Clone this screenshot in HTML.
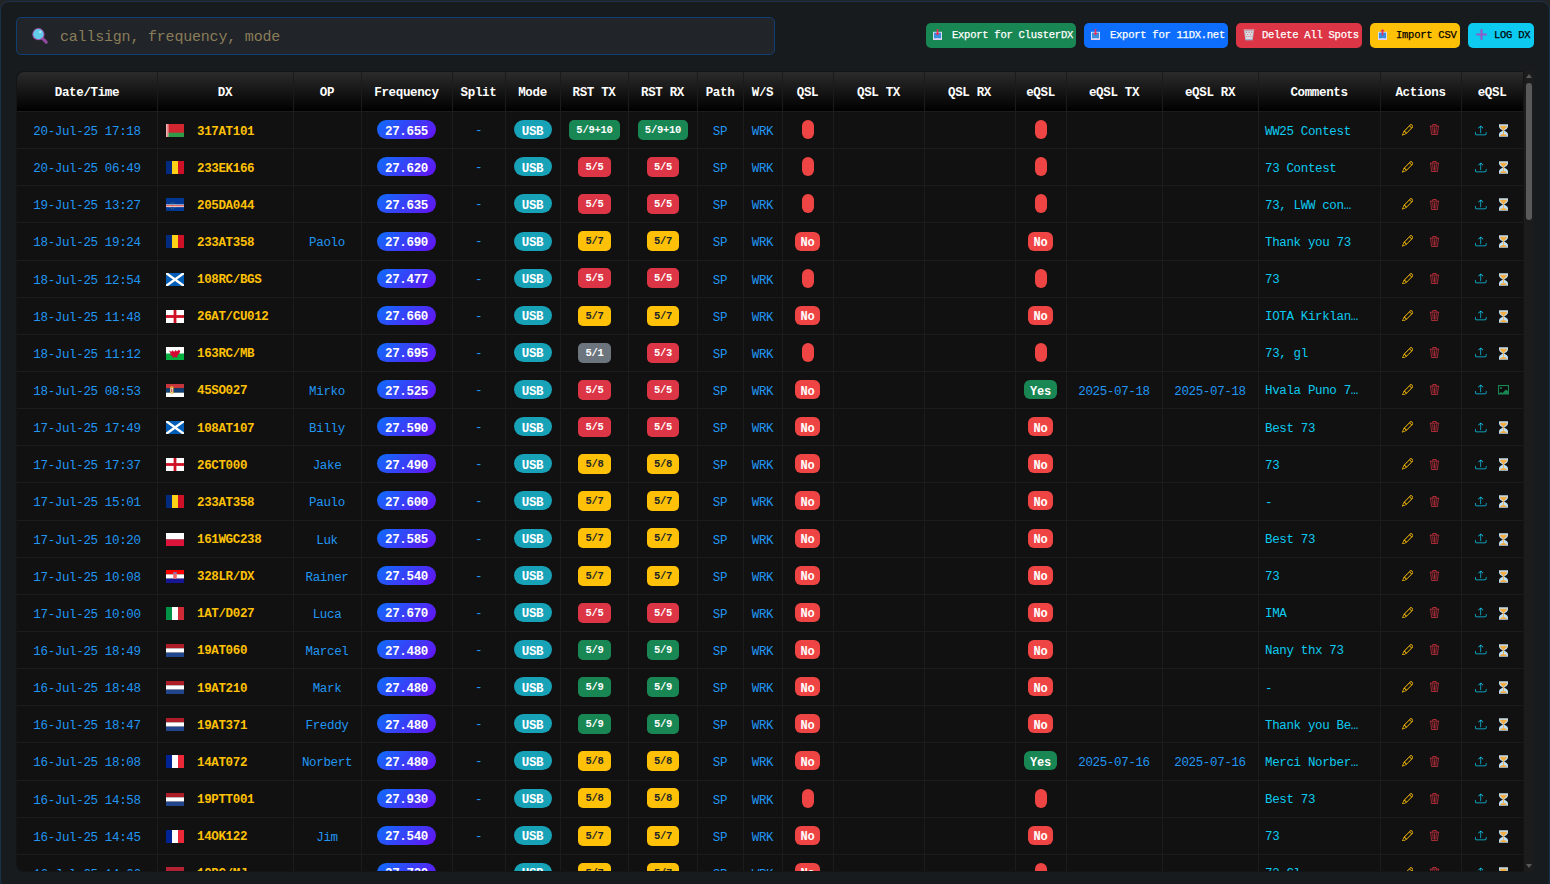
<!DOCTYPE html>
<html><head><meta charset="utf-8"><title>DX Log</title>
<style>
*{box-sizing:border-box;margin:0;padding:0}
html,body{width:1550px;height:884px;overflow:hidden;background:#222428}
body{position:relative;font-family:"Liberation Mono",monospace}
.panel{position:absolute;left:0;top:1px;width:1550px;height:888px;background:#181b1e;border:1px solid #1a3249;border-radius:9px}
.search{position:absolute;left:16px;top:17px;width:759px;height:38px;background:#212428;border:1px solid #104072;border-radius:5px}
.search .mag{position:absolute;left:15px;top:10px}
.search .ph{position:absolute;left:43px;top:10px;font-size:15px;letter-spacing:-0.2px;color:#8a7d5a;line-height:20px}
.btn{position:absolute;top:23px;height:25px;border-radius:5px;font-size:10.5px;letter-spacing:-0.25px;line-height:25px;color:#fff;white-space:nowrap}
.btn .bi{position:absolute;top:5.5px}
.btn span{position:absolute;top:0;-webkit-text-stroke:0.25px currentColor}
.tbl{position:absolute;left:17px;top:72px;width:1506px;height:799px;border-radius:7px 0 0 7px;overflow:hidden;background:#111;box-shadow:0 0 0 1px #131416}
.head{position:absolute;left:0;top:0;width:1506px;height:39px;background:linear-gradient(#2b2b2b,#000)}
.head .c{height:39px;line-height:39px;padding-top:2px;color:#fff;font-weight:bold;font-size:12.5px;letter-spacing:-0.35px}
.c{position:absolute;top:0;height:37.14px;text-align:center;white-space:nowrap;overflow:hidden}
.row{position:absolute;left:0;width:1506px;height:37.14px;border-top:1px solid #1c1c1c}
.row .c{line-height:36px;font-size:12.5px;letter-spacing:-0.35px}
.row .bc{line-height:0;padding-top:8.1px}
.vl{position:absolute;top:0;width:1px;height:799px;background:#1c1c1c}
.hvl{position:absolute;top:0;width:1px;height:39px;background:#1b1b1b}
.dt,.op,.bl{color:#2196f3;position:relative;top:2px} .sp{color:#2196f3;position:relative;top:1px}
.call{color:#ffc107;font-weight:bold;position:absolute;left:40px;top:1.5px}
.flag{position:absolute;left:9px;top:12px}
.com{color:#0dcaf0;position:absolute;left:7px;top:1.5px}
.fq{display:inline-block;vertical-align:top;height:19px;line-height:19px;padding:2.5px 8px 0;border-radius:10px;background:linear-gradient(135deg,#0d6efd,#6610f2);color:#fff;font-weight:bold}
.usb{display:inline-block;vertical-align:top;height:19px;line-height:19px;padding:2.5px 4px 0;width:38px;border-radius:10px;background:#17a2b8;color:#fff;font-weight:bold}
.rb{display:inline-block;vertical-align:top;height:20px;line-height:20px;padding:0 7px;position:relative;left:0.5px;top:-0.25px;border-radius:5px;font-size:10.5px;letter-spacing:-0.25px;font-weight:bold;color:#fff}
.rb-g{background:#198754} .rb-r{background:#dc3545} .rb-y{background:#ffc107;color:#212529} .rb-s{background:#6c757d}
.qb{display:inline-block;vertical-align:top;height:19px;line-height:19px;padding:2.5px 5.6px 0;border-radius:6px;font-size:12px;letter-spacing:-0.2px;font-weight:bold;color:#fff}
.qb-e{width:12px;padding:0}
.qb-r{background:#ef4444} .qb-g{background:#198754}
.ic{position:absolute;top:12px}
.pen{left:21.5px;top:12px} .tr{left:48.5px;top:12.3px} .up{left:14px;top:12.5px} .hg{left:38px;top:12px} .img{left:37px;top:13.2px}
.sb{position:absolute;left:1524px;top:71px;width:10px;height:800px;background:#1c1c1c}
.sb .th{position:absolute;left:2px;top:12px;width:6px;height:137px;border-radius:3px;background:#5a5a5a}
.sb .au{position:absolute;left:2px;top:3px;width:0;height:0;border-left:3px solid transparent;border-right:3px solid transparent;border-bottom:4px solid #5a5a5a}
.sb .ad{position:absolute;left:2px;bottom:3px;width:0;height:0;border-left:3px solid transparent;border-right:3px solid transparent;border-top:4px solid #5a5a5a}
</style></head><body>
<div class="panel"></div>
<div class="search"><svg class="mag" width="17" height="17" viewBox="0 0 17 17"><path d="M10.4 10.4L14.2 14.2" stroke="#8e4a9c" stroke-width="3.2" stroke-linecap="round"/><circle cx="6.4" cy="6.2" r="6.1" fill="#a052b0"/><circle cx="6.4" cy="6.2" r="5.1" fill="#62cbe8"/><circle cx="8.2" cy="4" r="1" fill="#d6f2fb"/></svg><span class="ph">callsign, frequency, mode</span></div>
<div class="btn" style="left:926px;width:150px;background:#198754"><svg class="bi" style="left:7px" width="9" height="11" viewBox="0 0 9 11"><rect x="0" y="2.8" width="9" height="8.2" fill="#e3e8ef"/><rect x="0.9" y="3.6" width="7.2" height="5.6" fill="#3b8de0"/><path d="M0.9 9.2h2.2l.6.8h1.6l.6-.8h2.2v.9H.9z" fill="#9ec2ee"/><rect x="0" y="10" width="9" height="1" fill="#e9cdf2"/><rect x="3.7" y="0" width="1.6" height="4.5" fill="#e8305a"/><path d="M2.4 4h4.2L4.5 6.6z" fill="#e8305a"/></svg><span style="left:26px">Export for ClusterDX</span></div>
<div class="btn" style="left:1084px;width:144px;background:#0d6efd"><svg class="bi" style="left:7px" width="9" height="11" viewBox="0 0 9 11"><rect x="0" y="2.8" width="9" height="8.2" fill="#e3e8ef"/><rect x="0.9" y="3.6" width="7.2" height="5.6" fill="#3b8de0"/><path d="M0.9 9.2h2.2l.6.8h1.6l.6-.8h2.2v.9H.9z" fill="#9ec2ee"/><rect x="0" y="10" width="9" height="1" fill="#e9cdf2"/><rect x="3.7" y="0" width="1.6" height="4.5" fill="#e8305a"/><path d="M2.4 4h4.2L4.5 6.6z" fill="#e8305a"/></svg><span style="left:26px">Export for 11DX.net</span></div>
<div class="btn" style="left:1236px;width:126px;background:#dc3545"><svg class="bi" style="left:7px" width="12" height="12" viewBox="0 0 12 12"><path d="M0.3 0.6h11.4l-.6 1H.9z" fill="#cfd8e0"/><path d="M1 1.6h10l-1.3 9.4H2.3z" fill="#b8c2cc"/><path d="M2.2 2.4l.9 7.6h5.8l.9-7.6z" fill="#d6dde4"/><g fill="#e25a6a"><circle cx="3.5" cy="3.5" r=".5"/><circle cx="6" cy="3.5" r=".5"/><circle cx="8.5" cy="3.5" r=".5"/><circle cx="4.7" cy="5.5" r=".5"/><circle cx="7.3" cy="5.5" r=".5"/><circle cx="3.9" cy="7.6" r=".5"/><circle cx="6" cy="7.6" r=".5"/><circle cx="8.1" cy="7.6" r=".5"/></g><rect x="2.2" y="10.4" width="7.6" height="1" fill="#9aa3c0"/></svg><span style="left:26px">Delete All Spots</span></div>
<div class="btn" style="left:1370px;width:90px;background:#ffc107;color:#000"><svg class="bi" style="left:8px" width="9" height="11" viewBox="0 0 9 11"><rect x="0" y="2.8" width="9" height="8.2" fill="#e3e8ef"/><rect x="0.9" y="3.6" width="7.2" height="5.6" fill="#3b8de0"/><path d="M0.9 9.2h2.2l.6.8h1.6l.6-.8h2.2v.9H.9z" fill="#9ec2ee"/><rect x="0" y="10" width="9" height="1" fill="#e9cdf2"/><rect x="3.7" y="2.2" width="1.6" height="4.3" fill="#e8305a"/><path d="M2.2 2.6h4.6L4.5 0z" fill="#e8305a"/></svg><span style="left:26px">Import CSV</span></div>
<div class="btn" style="left:1468px;width:66px;background:#0dcaf0;color:#000"><svg class="bi" style="left:8px" width="11" height="11" viewBox="0 0 11 11"><rect x="4.4" y="0" width="2.2" height="11" rx="1" fill="#8e5bc8"/><rect x="0" y="4.4" width="11" height="2.2" rx="1" fill="#8e5bc8"/></svg><span style="left:26px">LOG DX</span></div>
<div class="tbl">
<div class="row" style="top:39.00px"><div class="c " style="left:0px;width:140px"><span class="dt">20-Jul-25 17:18</span></div><div class="c l" style="left:140px;width:136px"><svg class="flag" width="18" height="13" viewBox="0 0 18 13"><rect width="18" height="13" fill="#d22630"/><rect y="8.7" width="18" height="4.3" fill="#2f9a48"/><rect width="2.4" height="13" fill="#f4c8c8"/><rect x="0.8" width="0.8" height="13" fill="#d22630" opacity=".6"/></svg><span class="call">317AT101</span></div><div class="c " style="left:276px;width:68px"><span class="op"></span></div><div class="c bc" style="left:344px;width:91px"><span class="fq">27.655</span></div><div class="c " style="left:435px;width:53px"><span class="sp">-</span></div><div class="c bc" style="left:488px;width:55px"><span class="usb">USB</span></div><div class="c bc" style="left:543px;width:68px"><span class="rb rb-g">5/9+10</span></div><div class="c bc" style="left:611px;width:69px"><span class="rb rb-g">5/9+10</span></div><div class="c " style="left:680px;width:46px"><span class="bl">SP</span></div><div class="c " style="left:726px;width:39px"><span class="bl">WRK</span></div><div class="c bc" style="left:765px;width:51px"><span class="qb qb-r qb-e"></span></div><div class="c " style="left:816px;width:91px"></div><div class="c " style="left:907px;width:91px"></div><div class="c bc" style="left:998px;width:51px"><span class="qb qb-r qb-e"></span></div><div class="c " style="left:1049px;width:96px"><span class="bl"></span></div><div class="c " style="left:1145px;width:96px"><span class="bl"></span></div><div class="c l" style="left:1241px;width:122px"><span class="com">WW25 Contest</span></div><div class="c " style="left:1363px;width:81px"><svg class="ic pen" width="11.5" height="11.5" viewBox="0 0 16 16"><path fill="#ffc107" d="M12.146.146a.5.5 0 0 1 .708 0l3 3a.5.5 0 0 1 0 .708l-10 10a.5.5 0 0 1-.168.11l-5 2a.5.5 0 0 1-.65-.65l2-5a.5.5 0 0 1 .11-.168zM11.207 2.5 13.5 4.793 14.793 3.5 12.5 1.207zm1.586 3L10.5 3.207 4 9.707V10h.5a.5.5 0 0 1 .5.5v.5h.5a.5.5 0 0 1 .5.5v.5h.293zm-9.761 5.175-.106.106-1.528 3.821 3.821-1.528.106-.106A.5.5 0 0 1 5 12.5V12h-.5a.5.5 0 0 1-.5-.5V11h-.5a.5.5 0 0 1-.468-.325"/></svg><svg class="ic tr" width="11" height="11" viewBox="0 0 16 16"><path fill="#dc3545" d="M6.5 1h3a.5.5 0 0 1 .5.5v1H6v-1a.5.5 0 0 1 .5-.5M11 2.5v-1A1.5 1.5 0 0 0 9.5 0h-3A1.5 1.5 0 0 0 5 1.5v1H1.5a.5.5 0 0 0 0 1h.538l.853 10.66A2 2 0 0 0 4.885 16h6.23a2 2 0 0 0 1.994-1.84l.853-10.66h.538a.5.5 0 0 0 0-1zm1.958 1-.846 10.58a1 1 0 0 1-.997.92h-6.23a1 1 0 0 1-.997-.92L3.042 3.5zm-7.487 1a.5.5 0 0 1 .528.47l.5 8.5a.5.5 0 0 1-.998.06L5 5.03a.5.5 0 0 1 .47-.53Zm5.058 0a.5.5 0 0 1 .47.53l-.5 8.5a.5.5 0 1 1-.998-.06l.5-8.5a.5.5 0 0 1 .528-.47M8 4.5a.5.5 0 0 1 .5.5v8.5a.5.5 0 0 1-1 0V5a.5.5 0 0 1 .5-.5"/></svg></div><div class="c " style="left:1444px;width:62px"><svg class="ic up" width="11.5" height="11" viewBox="0 0 16 16" preserveAspectRatio="none"><path fill="#0dcaf0" d="M.5 9.9a.5.5 0 0 1 .5.5v2.5a1 1 0 0 0 1 1h12a1 1 0 0 0 1-1v-2.5a.5.5 0 0 1 1 0v2.5a2 2 0 0 1-2 2H2a2 2 0 0 1-2-2v-2.5a.5.5 0 0 1 .5-.5"/><path fill="#0dcaf0" d="M7.646 1.146a.5.5 0 0 1 .708 0l3 3a.5.5 0 0 1-.708.708L8.5 2.707V11.5a.5.5 0 0 1-1 0V2.707L5.354 4.854a.5.5 0 1 1-.708-.708z"/></svg><svg class="ic hg" width="9" height="13" viewBox="0 0 9 13"><rect x="0" y="0" width="9" height="1" fill="#9aa7b0"/><rect x="0" y="12" width="9" height="1" fill="#9aa7b0"/><path d="M0 1h9v1.6c0 1.9-2.4 3.2-3.9 3.9C6.6 7.2 9 8.5 9 10.4V12H0v-1.6C0 8.5 2.4 7.2 3.9 6.5 2.4 5.8 0 4.5 0 2.6z" fill="#bfe0f6"/><path d="M.9 1.8h7.2c0 1.8-2 3-3.3 4.2h-.6C2.9 4.8.9 3.6.9 1.8z" fill="#f2ae45"/><rect x="4.1" y="5.6" width=".8" height="4.6" fill="#f2ae45"/><path d="M1 11.9c.3-1.3 1.8-2 3.5-2s3.2.7 3.5 2z" fill="#f2ae45"/></svg></div></div><div class="row" style="top:76.14px"><div class="c " style="left:0px;width:140px"><span class="dt">20-Jul-25 06:49</span></div><div class="c l" style="left:140px;width:136px"><svg class="flag" width="18" height="13" viewBox="0 0 18 13"><rect width="6" height="13" fill="#002b7f"/><rect x="6" width="6" height="13" fill="#fcd116"/><rect x="12" width="6" height="13" fill="#ce1126"/></svg><span class="call">233EK166</span></div><div class="c " style="left:276px;width:68px"><span class="op"></span></div><div class="c bc" style="left:344px;width:91px"><span class="fq">27.620</span></div><div class="c " style="left:435px;width:53px"><span class="sp">-</span></div><div class="c bc" style="left:488px;width:55px"><span class="usb">USB</span></div><div class="c bc" style="left:543px;width:68px"><span class="rb rb-r">5/5</span></div><div class="c bc" style="left:611px;width:69px"><span class="rb rb-r">5/5</span></div><div class="c " style="left:680px;width:46px"><span class="bl">SP</span></div><div class="c " style="left:726px;width:39px"><span class="bl">WRK</span></div><div class="c bc" style="left:765px;width:51px"><span class="qb qb-r qb-e"></span></div><div class="c " style="left:816px;width:91px"></div><div class="c " style="left:907px;width:91px"></div><div class="c bc" style="left:998px;width:51px"><span class="qb qb-r qb-e"></span></div><div class="c " style="left:1049px;width:96px"><span class="bl"></span></div><div class="c " style="left:1145px;width:96px"><span class="bl"></span></div><div class="c l" style="left:1241px;width:122px"><span class="com">73 Contest</span></div><div class="c " style="left:1363px;width:81px"><svg class="ic pen" width="11.5" height="11.5" viewBox="0 0 16 16"><path fill="#ffc107" d="M12.146.146a.5.5 0 0 1 .708 0l3 3a.5.5 0 0 1 0 .708l-10 10a.5.5 0 0 1-.168.11l-5 2a.5.5 0 0 1-.65-.65l2-5a.5.5 0 0 1 .11-.168zM11.207 2.5 13.5 4.793 14.793 3.5 12.5 1.207zm1.586 3L10.5 3.207 4 9.707V10h.5a.5.5 0 0 1 .5.5v.5h.5a.5.5 0 0 1 .5.5v.5h.293zm-9.761 5.175-.106.106-1.528 3.821 3.821-1.528.106-.106A.5.5 0 0 1 5 12.5V12h-.5a.5.5 0 0 1-.5-.5V11h-.5a.5.5 0 0 1-.468-.325"/></svg><svg class="ic tr" width="11" height="11" viewBox="0 0 16 16"><path fill="#dc3545" d="M6.5 1h3a.5.5 0 0 1 .5.5v1H6v-1a.5.5 0 0 1 .5-.5M11 2.5v-1A1.5 1.5 0 0 0 9.5 0h-3A1.5 1.5 0 0 0 5 1.5v1H1.5a.5.5 0 0 0 0 1h.538l.853 10.66A2 2 0 0 0 4.885 16h6.23a2 2 0 0 0 1.994-1.84l.853-10.66h.538a.5.5 0 0 0 0-1zm1.958 1-.846 10.58a1 1 0 0 1-.997.92h-6.23a1 1 0 0 1-.997-.92L3.042 3.5zm-7.487 1a.5.5 0 0 1 .528.47l.5 8.5a.5.5 0 0 1-.998.06L5 5.03a.5.5 0 0 1 .47-.53Zm5.058 0a.5.5 0 0 1 .47.53l-.5 8.5a.5.5 0 1 1-.998-.06l.5-8.5a.5.5 0 0 1 .528-.47M8 4.5a.5.5 0 0 1 .5.5v8.5a.5.5 0 0 1-1 0V5a.5.5 0 0 1 .5-.5"/></svg></div><div class="c " style="left:1444px;width:62px"><svg class="ic up" width="11.5" height="11" viewBox="0 0 16 16" preserveAspectRatio="none"><path fill="#0dcaf0" d="M.5 9.9a.5.5 0 0 1 .5.5v2.5a1 1 0 0 0 1 1h12a1 1 0 0 0 1-1v-2.5a.5.5 0 0 1 1 0v2.5a2 2 0 0 1-2 2H2a2 2 0 0 1-2-2v-2.5a.5.5 0 0 1 .5-.5"/><path fill="#0dcaf0" d="M7.646 1.146a.5.5 0 0 1 .708 0l3 3a.5.5 0 0 1-.708.708L8.5 2.707V11.5a.5.5 0 0 1-1 0V2.707L5.354 4.854a.5.5 0 1 1-.708-.708z"/></svg><svg class="ic hg" width="9" height="13" viewBox="0 0 9 13"><rect x="0" y="0" width="9" height="1" fill="#9aa7b0"/><rect x="0" y="12" width="9" height="1" fill="#9aa7b0"/><path d="M0 1h9v1.6c0 1.9-2.4 3.2-3.9 3.9C6.6 7.2 9 8.5 9 10.4V12H0v-1.6C0 8.5 2.4 7.2 3.9 6.5 2.4 5.8 0 4.5 0 2.6z" fill="#bfe0f6"/><path d="M.9 1.8h7.2c0 1.8-2 3-3.3 4.2h-.6C2.9 4.8.9 3.6.9 1.8z" fill="#f2ae45"/><rect x="4.1" y="5.6" width=".8" height="4.6" fill="#f2ae45"/><path d="M1 11.9c.3-1.3 1.8-2 3.5-2s3.2.7 3.5 2z" fill="#f2ae45"/></svg></div></div><div class="row" style="top:113.28px"><div class="c " style="left:0px;width:140px"><span class="dt">19-Jul-25 13:27</span></div><div class="c l" style="left:140px;width:136px"><svg class="flag" width="18" height="13" viewBox="0 0 18 13"><rect width="18" height="13" fill="#003893"/><rect y="6.5" width="18" height="2.6" fill="#fff"/><rect y="7.3" width="18" height="1.0" fill="#cf2027"/><circle cx="6.5" cy="7.8" r="3" fill="none" stroke="#f7d116" stroke-width=".5" stroke-dasharray=".6 1.2"/></svg><span class="call">205DA044</span></div><div class="c " style="left:276px;width:68px"><span class="op"></span></div><div class="c bc" style="left:344px;width:91px"><span class="fq">27.635</span></div><div class="c " style="left:435px;width:53px"><span class="sp">-</span></div><div class="c bc" style="left:488px;width:55px"><span class="usb">USB</span></div><div class="c bc" style="left:543px;width:68px"><span class="rb rb-r">5/5</span></div><div class="c bc" style="left:611px;width:69px"><span class="rb rb-r">5/5</span></div><div class="c " style="left:680px;width:46px"><span class="bl">SP</span></div><div class="c " style="left:726px;width:39px"><span class="bl">WRK</span></div><div class="c bc" style="left:765px;width:51px"><span class="qb qb-r qb-e"></span></div><div class="c " style="left:816px;width:91px"></div><div class="c " style="left:907px;width:91px"></div><div class="c bc" style="left:998px;width:51px"><span class="qb qb-r qb-e"></span></div><div class="c " style="left:1049px;width:96px"><span class="bl"></span></div><div class="c " style="left:1145px;width:96px"><span class="bl"></span></div><div class="c l" style="left:1241px;width:122px"><span class="com">73, LWW con…</span></div><div class="c " style="left:1363px;width:81px"><svg class="ic pen" width="11.5" height="11.5" viewBox="0 0 16 16"><path fill="#ffc107" d="M12.146.146a.5.5 0 0 1 .708 0l3 3a.5.5 0 0 1 0 .708l-10 10a.5.5 0 0 1-.168.11l-5 2a.5.5 0 0 1-.65-.65l2-5a.5.5 0 0 1 .11-.168zM11.207 2.5 13.5 4.793 14.793 3.5 12.5 1.207zm1.586 3L10.5 3.207 4 9.707V10h.5a.5.5 0 0 1 .5.5v.5h.5a.5.5 0 0 1 .5.5v.5h.293zm-9.761 5.175-.106.106-1.528 3.821 3.821-1.528.106-.106A.5.5 0 0 1 5 12.5V12h-.5a.5.5 0 0 1-.5-.5V11h-.5a.5.5 0 0 1-.468-.325"/></svg><svg class="ic tr" width="11" height="11" viewBox="0 0 16 16"><path fill="#dc3545" d="M6.5 1h3a.5.5 0 0 1 .5.5v1H6v-1a.5.5 0 0 1 .5-.5M11 2.5v-1A1.5 1.5 0 0 0 9.5 0h-3A1.5 1.5 0 0 0 5 1.5v1H1.5a.5.5 0 0 0 0 1h.538l.853 10.66A2 2 0 0 0 4.885 16h6.23a2 2 0 0 0 1.994-1.84l.853-10.66h.538a.5.5 0 0 0 0-1zm1.958 1-.846 10.58a1 1 0 0 1-.997.92h-6.23a1 1 0 0 1-.997-.92L3.042 3.5zm-7.487 1a.5.5 0 0 1 .528.47l.5 8.5a.5.5 0 0 1-.998.06L5 5.03a.5.5 0 0 1 .47-.53Zm5.058 0a.5.5 0 0 1 .47.53l-.5 8.5a.5.5 0 1 1-.998-.06l.5-8.5a.5.5 0 0 1 .528-.47M8 4.5a.5.5 0 0 1 .5.5v8.5a.5.5 0 0 1-1 0V5a.5.5 0 0 1 .5-.5"/></svg></div><div class="c " style="left:1444px;width:62px"><svg class="ic up" width="11.5" height="11" viewBox="0 0 16 16" preserveAspectRatio="none"><path fill="#0dcaf0" d="M.5 9.9a.5.5 0 0 1 .5.5v2.5a1 1 0 0 0 1 1h12a1 1 0 0 0 1-1v-2.5a.5.5 0 0 1 1 0v2.5a2 2 0 0 1-2 2H2a2 2 0 0 1-2-2v-2.5a.5.5 0 0 1 .5-.5"/><path fill="#0dcaf0" d="M7.646 1.146a.5.5 0 0 1 .708 0l3 3a.5.5 0 0 1-.708.708L8.5 2.707V11.5a.5.5 0 0 1-1 0V2.707L5.354 4.854a.5.5 0 1 1-.708-.708z"/></svg><svg class="ic hg" width="9" height="13" viewBox="0 0 9 13"><rect x="0" y="0" width="9" height="1" fill="#9aa7b0"/><rect x="0" y="12" width="9" height="1" fill="#9aa7b0"/><path d="M0 1h9v1.6c0 1.9-2.4 3.2-3.9 3.9C6.6 7.2 9 8.5 9 10.4V12H0v-1.6C0 8.5 2.4 7.2 3.9 6.5 2.4 5.8 0 4.5 0 2.6z" fill="#bfe0f6"/><path d="M.9 1.8h7.2c0 1.8-2 3-3.3 4.2h-.6C2.9 4.8.9 3.6.9 1.8z" fill="#f2ae45"/><rect x="4.1" y="5.6" width=".8" height="4.6" fill="#f2ae45"/><path d="M1 11.9c.3-1.3 1.8-2 3.5-2s3.2.7 3.5 2z" fill="#f2ae45"/></svg></div></div><div class="row" style="top:150.42px"><div class="c " style="left:0px;width:140px"><span class="dt">18-Jul-25 19:24</span></div><div class="c l" style="left:140px;width:136px"><svg class="flag" width="18" height="13" viewBox="0 0 18 13"><rect width="6" height="13" fill="#002b7f"/><rect x="6" width="6" height="13" fill="#fcd116"/><rect x="12" width="6" height="13" fill="#ce1126"/></svg><span class="call">233AT358</span></div><div class="c " style="left:276px;width:68px"><span class="op">Paolo</span></div><div class="c bc" style="left:344px;width:91px"><span class="fq">27.690</span></div><div class="c " style="left:435px;width:53px"><span class="sp">-</span></div><div class="c bc" style="left:488px;width:55px"><span class="usb">USB</span></div><div class="c bc" style="left:543px;width:68px"><span class="rb rb-y">5/7</span></div><div class="c bc" style="left:611px;width:69px"><span class="rb rb-y">5/7</span></div><div class="c " style="left:680px;width:46px"><span class="bl">SP</span></div><div class="c " style="left:726px;width:39px"><span class="bl">WRK</span></div><div class="c bc" style="left:765px;width:51px"><span class="qb qb-r">No</span></div><div class="c " style="left:816px;width:91px"></div><div class="c " style="left:907px;width:91px"></div><div class="c bc" style="left:998px;width:51px"><span class="qb qb-r">No</span></div><div class="c " style="left:1049px;width:96px"><span class="bl"></span></div><div class="c " style="left:1145px;width:96px"><span class="bl"></span></div><div class="c l" style="left:1241px;width:122px"><span class="com">Thank you 73</span></div><div class="c " style="left:1363px;width:81px"><svg class="ic pen" width="11.5" height="11.5" viewBox="0 0 16 16"><path fill="#ffc107" d="M12.146.146a.5.5 0 0 1 .708 0l3 3a.5.5 0 0 1 0 .708l-10 10a.5.5 0 0 1-.168.11l-5 2a.5.5 0 0 1-.65-.65l2-5a.5.5 0 0 1 .11-.168zM11.207 2.5 13.5 4.793 14.793 3.5 12.5 1.207zm1.586 3L10.5 3.207 4 9.707V10h.5a.5.5 0 0 1 .5.5v.5h.5a.5.5 0 0 1 .5.5v.5h.293zm-9.761 5.175-.106.106-1.528 3.821 3.821-1.528.106-.106A.5.5 0 0 1 5 12.5V12h-.5a.5.5 0 0 1-.5-.5V11h-.5a.5.5 0 0 1-.468-.325"/></svg><svg class="ic tr" width="11" height="11" viewBox="0 0 16 16"><path fill="#dc3545" d="M6.5 1h3a.5.5 0 0 1 .5.5v1H6v-1a.5.5 0 0 1 .5-.5M11 2.5v-1A1.5 1.5 0 0 0 9.5 0h-3A1.5 1.5 0 0 0 5 1.5v1H1.5a.5.5 0 0 0 0 1h.538l.853 10.66A2 2 0 0 0 4.885 16h6.23a2 2 0 0 0 1.994-1.84l.853-10.66h.538a.5.5 0 0 0 0-1zm1.958 1-.846 10.58a1 1 0 0 1-.997.92h-6.23a1 1 0 0 1-.997-.92L3.042 3.5zm-7.487 1a.5.5 0 0 1 .528.47l.5 8.5a.5.5 0 0 1-.998.06L5 5.03a.5.5 0 0 1 .47-.53Zm5.058 0a.5.5 0 0 1 .47.53l-.5 8.5a.5.5 0 1 1-.998-.06l.5-8.5a.5.5 0 0 1 .528-.47M8 4.5a.5.5 0 0 1 .5.5v8.5a.5.5 0 0 1-1 0V5a.5.5 0 0 1 .5-.5"/></svg></div><div class="c " style="left:1444px;width:62px"><svg class="ic up" width="11.5" height="11" viewBox="0 0 16 16" preserveAspectRatio="none"><path fill="#0dcaf0" d="M.5 9.9a.5.5 0 0 1 .5.5v2.5a1 1 0 0 0 1 1h12a1 1 0 0 0 1-1v-2.5a.5.5 0 0 1 1 0v2.5a2 2 0 0 1-2 2H2a2 2 0 0 1-2-2v-2.5a.5.5 0 0 1 .5-.5"/><path fill="#0dcaf0" d="M7.646 1.146a.5.5 0 0 1 .708 0l3 3a.5.5 0 0 1-.708.708L8.5 2.707V11.5a.5.5 0 0 1-1 0V2.707L5.354 4.854a.5.5 0 1 1-.708-.708z"/></svg><svg class="ic hg" width="9" height="13" viewBox="0 0 9 13"><rect x="0" y="0" width="9" height="1" fill="#9aa7b0"/><rect x="0" y="12" width="9" height="1" fill="#9aa7b0"/><path d="M0 1h9v1.6c0 1.9-2.4 3.2-3.9 3.9C6.6 7.2 9 8.5 9 10.4V12H0v-1.6C0 8.5 2.4 7.2 3.9 6.5 2.4 5.8 0 4.5 0 2.6z" fill="#bfe0f6"/><path d="M.9 1.8h7.2c0 1.8-2 3-3.3 4.2h-.6C2.9 4.8.9 3.6.9 1.8z" fill="#f2ae45"/><rect x="4.1" y="5.6" width=".8" height="4.6" fill="#f2ae45"/><path d="M1 11.9c.3-1.3 1.8-2 3.5-2s3.2.7 3.5 2z" fill="#f2ae45"/></svg></div></div><div class="row" style="top:187.56px"><div class="c " style="left:0px;width:140px"><span class="dt">18-Jul-25 12:54</span></div><div class="c l" style="left:140px;width:136px"><svg class="flag" width="18" height="13" viewBox="0 0 18 13"><rect width="18" height="13" fill="#005eb8"/><path d="M0 0L18 13M18 0L0 13" stroke="#fff" stroke-width="2.4"/></svg><span class="call">108RC/BGS</span></div><div class="c " style="left:276px;width:68px"><span class="op"></span></div><div class="c bc" style="left:344px;width:91px"><span class="fq">27.477</span></div><div class="c " style="left:435px;width:53px"><span class="sp">-</span></div><div class="c bc" style="left:488px;width:55px"><span class="usb">USB</span></div><div class="c bc" style="left:543px;width:68px"><span class="rb rb-r">5/5</span></div><div class="c bc" style="left:611px;width:69px"><span class="rb rb-r">5/5</span></div><div class="c " style="left:680px;width:46px"><span class="bl">SP</span></div><div class="c " style="left:726px;width:39px"><span class="bl">WRK</span></div><div class="c bc" style="left:765px;width:51px"><span class="qb qb-r qb-e"></span></div><div class="c " style="left:816px;width:91px"></div><div class="c " style="left:907px;width:91px"></div><div class="c bc" style="left:998px;width:51px"><span class="qb qb-r qb-e"></span></div><div class="c " style="left:1049px;width:96px"><span class="bl"></span></div><div class="c " style="left:1145px;width:96px"><span class="bl"></span></div><div class="c l" style="left:1241px;width:122px"><span class="com">73</span></div><div class="c " style="left:1363px;width:81px"><svg class="ic pen" width="11.5" height="11.5" viewBox="0 0 16 16"><path fill="#ffc107" d="M12.146.146a.5.5 0 0 1 .708 0l3 3a.5.5 0 0 1 0 .708l-10 10a.5.5 0 0 1-.168.11l-5 2a.5.5 0 0 1-.65-.65l2-5a.5.5 0 0 1 .11-.168zM11.207 2.5 13.5 4.793 14.793 3.5 12.5 1.207zm1.586 3L10.5 3.207 4 9.707V10h.5a.5.5 0 0 1 .5.5v.5h.5a.5.5 0 0 1 .5.5v.5h.293zm-9.761 5.175-.106.106-1.528 3.821 3.821-1.528.106-.106A.5.5 0 0 1 5 12.5V12h-.5a.5.5 0 0 1-.5-.5V11h-.5a.5.5 0 0 1-.468-.325"/></svg><svg class="ic tr" width="11" height="11" viewBox="0 0 16 16"><path fill="#dc3545" d="M6.5 1h3a.5.5 0 0 1 .5.5v1H6v-1a.5.5 0 0 1 .5-.5M11 2.5v-1A1.5 1.5 0 0 0 9.5 0h-3A1.5 1.5 0 0 0 5 1.5v1H1.5a.5.5 0 0 0 0 1h.538l.853 10.66A2 2 0 0 0 4.885 16h6.23a2 2 0 0 0 1.994-1.84l.853-10.66h.538a.5.5 0 0 0 0-1zm1.958 1-.846 10.58a1 1 0 0 1-.997.92h-6.23a1 1 0 0 1-.997-.92L3.042 3.5zm-7.487 1a.5.5 0 0 1 .528.47l.5 8.5a.5.5 0 0 1-.998.06L5 5.03a.5.5 0 0 1 .47-.53Zm5.058 0a.5.5 0 0 1 .47.53l-.5 8.5a.5.5 0 1 1-.998-.06l.5-8.5a.5.5 0 0 1 .528-.47M8 4.5a.5.5 0 0 1 .5.5v8.5a.5.5 0 0 1-1 0V5a.5.5 0 0 1 .5-.5"/></svg></div><div class="c " style="left:1444px;width:62px"><svg class="ic up" width="11.5" height="11" viewBox="0 0 16 16" preserveAspectRatio="none"><path fill="#0dcaf0" d="M.5 9.9a.5.5 0 0 1 .5.5v2.5a1 1 0 0 0 1 1h12a1 1 0 0 0 1-1v-2.5a.5.5 0 0 1 1 0v2.5a2 2 0 0 1-2 2H2a2 2 0 0 1-2-2v-2.5a.5.5 0 0 1 .5-.5"/><path fill="#0dcaf0" d="M7.646 1.146a.5.5 0 0 1 .708 0l3 3a.5.5 0 0 1-.708.708L8.5 2.707V11.5a.5.5 0 0 1-1 0V2.707L5.354 4.854a.5.5 0 1 1-.708-.708z"/></svg><svg class="ic hg" width="9" height="13" viewBox="0 0 9 13"><rect x="0" y="0" width="9" height="1" fill="#9aa7b0"/><rect x="0" y="12" width="9" height="1" fill="#9aa7b0"/><path d="M0 1h9v1.6c0 1.9-2.4 3.2-3.9 3.9C6.6 7.2 9 8.5 9 10.4V12H0v-1.6C0 8.5 2.4 7.2 3.9 6.5 2.4 5.8 0 4.5 0 2.6z" fill="#bfe0f6"/><path d="M.9 1.8h7.2c0 1.8-2 3-3.3 4.2h-.6C2.9 4.8.9 3.6.9 1.8z" fill="#f2ae45"/><rect x="4.1" y="5.6" width=".8" height="4.6" fill="#f2ae45"/><path d="M1 11.9c.3-1.3 1.8-2 3.5-2s3.2.7 3.5 2z" fill="#f2ae45"/></svg></div></div><div class="row" style="top:224.70px"><div class="c " style="left:0px;width:140px"><span class="dt">18-Jul-25 11:48</span></div><div class="c l" style="left:140px;width:136px"><svg class="flag" width="18" height="13" viewBox="0 0 18 13"><rect width="18" height="13" fill="#fff"/><rect x="7.6" width="2.8" height="13" fill="#ce1124"/><rect y="5.1" width="18" height="2.8" fill="#ce1124"/></svg><span class="call">26AT/CU012</span></div><div class="c " style="left:276px;width:68px"><span class="op"></span></div><div class="c bc" style="left:344px;width:91px"><span class="fq">27.660</span></div><div class="c " style="left:435px;width:53px"><span class="sp">-</span></div><div class="c bc" style="left:488px;width:55px"><span class="usb">USB</span></div><div class="c bc" style="left:543px;width:68px"><span class="rb rb-y">5/7</span></div><div class="c bc" style="left:611px;width:69px"><span class="rb rb-y">5/7</span></div><div class="c " style="left:680px;width:46px"><span class="bl">SP</span></div><div class="c " style="left:726px;width:39px"><span class="bl">WRK</span></div><div class="c bc" style="left:765px;width:51px"><span class="qb qb-r">No</span></div><div class="c " style="left:816px;width:91px"></div><div class="c " style="left:907px;width:91px"></div><div class="c bc" style="left:998px;width:51px"><span class="qb qb-r">No</span></div><div class="c " style="left:1049px;width:96px"><span class="bl"></span></div><div class="c " style="left:1145px;width:96px"><span class="bl"></span></div><div class="c l" style="left:1241px;width:122px"><span class="com">IOTA Kirklan…</span></div><div class="c " style="left:1363px;width:81px"><svg class="ic pen" width="11.5" height="11.5" viewBox="0 0 16 16"><path fill="#ffc107" d="M12.146.146a.5.5 0 0 1 .708 0l3 3a.5.5 0 0 1 0 .708l-10 10a.5.5 0 0 1-.168.11l-5 2a.5.5 0 0 1-.65-.65l2-5a.5.5 0 0 1 .11-.168zM11.207 2.5 13.5 4.793 14.793 3.5 12.5 1.207zm1.586 3L10.5 3.207 4 9.707V10h.5a.5.5 0 0 1 .5.5v.5h.5a.5.5 0 0 1 .5.5v.5h.293zm-9.761 5.175-.106.106-1.528 3.821 3.821-1.528.106-.106A.5.5 0 0 1 5 12.5V12h-.5a.5.5 0 0 1-.5-.5V11h-.5a.5.5 0 0 1-.468-.325"/></svg><svg class="ic tr" width="11" height="11" viewBox="0 0 16 16"><path fill="#dc3545" d="M6.5 1h3a.5.5 0 0 1 .5.5v1H6v-1a.5.5 0 0 1 .5-.5M11 2.5v-1A1.5 1.5 0 0 0 9.5 0h-3A1.5 1.5 0 0 0 5 1.5v1H1.5a.5.5 0 0 0 0 1h.538l.853 10.66A2 2 0 0 0 4.885 16h6.23a2 2 0 0 0 1.994-1.84l.853-10.66h.538a.5.5 0 0 0 0-1zm1.958 1-.846 10.58a1 1 0 0 1-.997.92h-6.23a1 1 0 0 1-.997-.92L3.042 3.5zm-7.487 1a.5.5 0 0 1 .528.47l.5 8.5a.5.5 0 0 1-.998.06L5 5.03a.5.5 0 0 1 .47-.53Zm5.058 0a.5.5 0 0 1 .47.53l-.5 8.5a.5.5 0 1 1-.998-.06l.5-8.5a.5.5 0 0 1 .528-.47M8 4.5a.5.5 0 0 1 .5.5v8.5a.5.5 0 0 1-1 0V5a.5.5 0 0 1 .5-.5"/></svg></div><div class="c " style="left:1444px;width:62px"><svg class="ic up" width="11.5" height="11" viewBox="0 0 16 16" preserveAspectRatio="none"><path fill="#0dcaf0" d="M.5 9.9a.5.5 0 0 1 .5.5v2.5a1 1 0 0 0 1 1h12a1 1 0 0 0 1-1v-2.5a.5.5 0 0 1 1 0v2.5a2 2 0 0 1-2 2H2a2 2 0 0 1-2-2v-2.5a.5.5 0 0 1 .5-.5"/><path fill="#0dcaf0" d="M7.646 1.146a.5.5 0 0 1 .708 0l3 3a.5.5 0 0 1-.708.708L8.5 2.707V11.5a.5.5 0 0 1-1 0V2.707L5.354 4.854a.5.5 0 1 1-.708-.708z"/></svg><svg class="ic hg" width="9" height="13" viewBox="0 0 9 13"><rect x="0" y="0" width="9" height="1" fill="#9aa7b0"/><rect x="0" y="12" width="9" height="1" fill="#9aa7b0"/><path d="M0 1h9v1.6c0 1.9-2.4 3.2-3.9 3.9C6.6 7.2 9 8.5 9 10.4V12H0v-1.6C0 8.5 2.4 7.2 3.9 6.5 2.4 5.8 0 4.5 0 2.6z" fill="#bfe0f6"/><path d="M.9 1.8h7.2c0 1.8-2 3-3.3 4.2h-.6C2.9 4.8.9 3.6.9 1.8z" fill="#f2ae45"/><rect x="4.1" y="5.6" width=".8" height="4.6" fill="#f2ae45"/><path d="M1 11.9c.3-1.3 1.8-2 3.5-2s3.2.7 3.5 2z" fill="#f2ae45"/></svg></div></div><div class="row" style="top:261.84px"><div class="c " style="left:0px;width:140px"><span class="dt">18-Jul-25 11:12</span></div><div class="c l" style="left:140px;width:136px"><svg class="flag" width="18" height="13" viewBox="0 0 18 13"><rect width="18" height="13" fill="#fff"/><rect y="6.5" width="18" height="6.5" fill="#00b140"/><path d="M3 3.5l2.2 1.2 1.5-1.5 1.3 1.8 1.6-2 1.4 1.6 1.7-1.8 1.6 1.2-1 2.6-1.8 1.6-.3 2.6-2.2-.8-2.2.9-.6-2.2-2.4-.6.9-1.4z" fill="#d30731"/></svg><span class="call">163RC/MB</span></div><div class="c " style="left:276px;width:68px"><span class="op"></span></div><div class="c bc" style="left:344px;width:91px"><span class="fq">27.695</span></div><div class="c " style="left:435px;width:53px"><span class="sp">-</span></div><div class="c bc" style="left:488px;width:55px"><span class="usb">USB</span></div><div class="c bc" style="left:543px;width:68px"><span class="rb rb-s">5/1</span></div><div class="c bc" style="left:611px;width:69px"><span class="rb rb-r">5/3</span></div><div class="c " style="left:680px;width:46px"><span class="bl">SP</span></div><div class="c " style="left:726px;width:39px"><span class="bl">WRK</span></div><div class="c bc" style="left:765px;width:51px"><span class="qb qb-r qb-e"></span></div><div class="c " style="left:816px;width:91px"></div><div class="c " style="left:907px;width:91px"></div><div class="c bc" style="left:998px;width:51px"><span class="qb qb-r qb-e"></span></div><div class="c " style="left:1049px;width:96px"><span class="bl"></span></div><div class="c " style="left:1145px;width:96px"><span class="bl"></span></div><div class="c l" style="left:1241px;width:122px"><span class="com">73, gl</span></div><div class="c " style="left:1363px;width:81px"><svg class="ic pen" width="11.5" height="11.5" viewBox="0 0 16 16"><path fill="#ffc107" d="M12.146.146a.5.5 0 0 1 .708 0l3 3a.5.5 0 0 1 0 .708l-10 10a.5.5 0 0 1-.168.11l-5 2a.5.5 0 0 1-.65-.65l2-5a.5.5 0 0 1 .11-.168zM11.207 2.5 13.5 4.793 14.793 3.5 12.5 1.207zm1.586 3L10.5 3.207 4 9.707V10h.5a.5.5 0 0 1 .5.5v.5h.5a.5.5 0 0 1 .5.5v.5h.293zm-9.761 5.175-.106.106-1.528 3.821 3.821-1.528.106-.106A.5.5 0 0 1 5 12.5V12h-.5a.5.5 0 0 1-.5-.5V11h-.5a.5.5 0 0 1-.468-.325"/></svg><svg class="ic tr" width="11" height="11" viewBox="0 0 16 16"><path fill="#dc3545" d="M6.5 1h3a.5.5 0 0 1 .5.5v1H6v-1a.5.5 0 0 1 .5-.5M11 2.5v-1A1.5 1.5 0 0 0 9.5 0h-3A1.5 1.5 0 0 0 5 1.5v1H1.5a.5.5 0 0 0 0 1h.538l.853 10.66A2 2 0 0 0 4.885 16h6.23a2 2 0 0 0 1.994-1.84l.853-10.66h.538a.5.5 0 0 0 0-1zm1.958 1-.846 10.58a1 1 0 0 1-.997.92h-6.23a1 1 0 0 1-.997-.92L3.042 3.5zm-7.487 1a.5.5 0 0 1 .528.47l.5 8.5a.5.5 0 0 1-.998.06L5 5.03a.5.5 0 0 1 .47-.53Zm5.058 0a.5.5 0 0 1 .47.53l-.5 8.5a.5.5 0 1 1-.998-.06l.5-8.5a.5.5 0 0 1 .528-.47M8 4.5a.5.5 0 0 1 .5.5v8.5a.5.5 0 0 1-1 0V5a.5.5 0 0 1 .5-.5"/></svg></div><div class="c " style="left:1444px;width:62px"><svg class="ic up" width="11.5" height="11" viewBox="0 0 16 16" preserveAspectRatio="none"><path fill="#0dcaf0" d="M.5 9.9a.5.5 0 0 1 .5.5v2.5a1 1 0 0 0 1 1h12a1 1 0 0 0 1-1v-2.5a.5.5 0 0 1 1 0v2.5a2 2 0 0 1-2 2H2a2 2 0 0 1-2-2v-2.5a.5.5 0 0 1 .5-.5"/><path fill="#0dcaf0" d="M7.646 1.146a.5.5 0 0 1 .708 0l3 3a.5.5 0 0 1-.708.708L8.5 2.707V11.5a.5.5 0 0 1-1 0V2.707L5.354 4.854a.5.5 0 1 1-.708-.708z"/></svg><svg class="ic hg" width="9" height="13" viewBox="0 0 9 13"><rect x="0" y="0" width="9" height="1" fill="#9aa7b0"/><rect x="0" y="12" width="9" height="1" fill="#9aa7b0"/><path d="M0 1h9v1.6c0 1.9-2.4 3.2-3.9 3.9C6.6 7.2 9 8.5 9 10.4V12H0v-1.6C0 8.5 2.4 7.2 3.9 6.5 2.4 5.8 0 4.5 0 2.6z" fill="#bfe0f6"/><path d="M.9 1.8h7.2c0 1.8-2 3-3.3 4.2h-.6C2.9 4.8.9 3.6.9 1.8z" fill="#f2ae45"/><rect x="4.1" y="5.6" width=".8" height="4.6" fill="#f2ae45"/><path d="M1 11.9c.3-1.3 1.8-2 3.5-2s3.2.7 3.5 2z" fill="#f2ae45"/></svg></div></div><div class="row" style="top:298.98px"><div class="c " style="left:0px;width:140px"><span class="dt">18-Jul-25 08:53</span></div><div class="c l" style="left:140px;width:136px"><svg class="flag" width="18" height="13" viewBox="0 0 18 13"><rect width="18" height="4.33" fill="#c6363c"/><rect y="4.33" width="18" height="4.34" fill="#0c4076"/><rect y="8.67" width="18" height="4.33" fill="#fff"/><rect x="4" y="2.2" width="3.6" height="7.6" rx="1.4" fill="#edb92e" opacity=".85"/><rect x="4.6" y="4" width="2.4" height="4.6" rx="1" fill="#fff" opacity=".9"/><rect x="5.2" y="4.6" width="1.2" height="3.4" fill="#c6363c"/></svg><span class="call">45SO027</span></div><div class="c " style="left:276px;width:68px"><span class="op">Mirko</span></div><div class="c bc" style="left:344px;width:91px"><span class="fq">27.525</span></div><div class="c " style="left:435px;width:53px"><span class="sp">-</span></div><div class="c bc" style="left:488px;width:55px"><span class="usb">USB</span></div><div class="c bc" style="left:543px;width:68px"><span class="rb rb-r">5/5</span></div><div class="c bc" style="left:611px;width:69px"><span class="rb rb-r">5/5</span></div><div class="c " style="left:680px;width:46px"><span class="bl">SP</span></div><div class="c " style="left:726px;width:39px"><span class="bl">WRK</span></div><div class="c bc" style="left:765px;width:51px"><span class="qb qb-r">No</span></div><div class="c " style="left:816px;width:91px"></div><div class="c " style="left:907px;width:91px"></div><div class="c bc" style="left:998px;width:51px"><span class="qb qb-g">Yes</span></div><div class="c " style="left:1049px;width:96px"><span class="bl">2025-07-18</span></div><div class="c " style="left:1145px;width:96px"><span class="bl">2025-07-18</span></div><div class="c l" style="left:1241px;width:122px"><span class="com">Hvala Puno 7…</span></div><div class="c " style="left:1363px;width:81px"><svg class="ic pen" width="11.5" height="11.5" viewBox="0 0 16 16"><path fill="#ffc107" d="M12.146.146a.5.5 0 0 1 .708 0l3 3a.5.5 0 0 1 0 .708l-10 10a.5.5 0 0 1-.168.11l-5 2a.5.5 0 0 1-.65-.65l2-5a.5.5 0 0 1 .11-.168zM11.207 2.5 13.5 4.793 14.793 3.5 12.5 1.207zm1.586 3L10.5 3.207 4 9.707V10h.5a.5.5 0 0 1 .5.5v.5h.5a.5.5 0 0 1 .5.5v.5h.293zm-9.761 5.175-.106.106-1.528 3.821 3.821-1.528.106-.106A.5.5 0 0 1 5 12.5V12h-.5a.5.5 0 0 1-.5-.5V11h-.5a.5.5 0 0 1-.468-.325"/></svg><svg class="ic tr" width="11" height="11" viewBox="0 0 16 16"><path fill="#dc3545" d="M6.5 1h3a.5.5 0 0 1 .5.5v1H6v-1a.5.5 0 0 1 .5-.5M11 2.5v-1A1.5 1.5 0 0 0 9.5 0h-3A1.5 1.5 0 0 0 5 1.5v1H1.5a.5.5 0 0 0 0 1h.538l.853 10.66A2 2 0 0 0 4.885 16h6.23a2 2 0 0 0 1.994-1.84l.853-10.66h.538a.5.5 0 0 0 0-1zm1.958 1-.846 10.58a1 1 0 0 1-.997.92h-6.23a1 1 0 0 1-.997-.92L3.042 3.5zm-7.487 1a.5.5 0 0 1 .528.47l.5 8.5a.5.5 0 0 1-.998.06L5 5.03a.5.5 0 0 1 .47-.53Zm5.058 0a.5.5 0 0 1 .47.53l-.5 8.5a.5.5 0 1 1-.998-.06l.5-8.5a.5.5 0 0 1 .528-.47M8 4.5a.5.5 0 0 1 .5.5v8.5a.5.5 0 0 1-1 0V5a.5.5 0 0 1 .5-.5"/></svg></div><div class="c " style="left:1444px;width:62px"><svg class="ic up" width="11.5" height="11" viewBox="0 0 16 16" preserveAspectRatio="none"><path fill="#0dcaf0" d="M.5 9.9a.5.5 0 0 1 .5.5v2.5a1 1 0 0 0 1 1h12a1 1 0 0 0 1-1v-2.5a.5.5 0 0 1 1 0v2.5a2 2 0 0 1-2 2H2a2 2 0 0 1-2-2v-2.5a.5.5 0 0 1 .5-.5"/><path fill="#0dcaf0" d="M7.646 1.146a.5.5 0 0 1 .708 0l3 3a.5.5 0 0 1-.708.708L8.5 2.707V11.5a.5.5 0 0 1-1 0V2.707L5.354 4.854a.5.5 0 1 1-.708-.708z"/></svg><svg class="ic img" width="11" height="9.5" viewBox="0 0 11 9.5"><rect x="0.55" y="0.55" width="9.9" height="8.4" fill="#0c0c0c" stroke="#198754" stroke-width="1.1"/><circle cx="3" cy="2.9" r="1" fill="#198754"/><path d="M.6 9l2.4-2 1.6.9 3.2-3.4 2.6 2.1V9z" fill="#198754"/></svg></div></div><div class="row" style="top:336.12px"><div class="c " style="left:0px;width:140px"><span class="dt">17-Jul-25 17:49</span></div><div class="c l" style="left:140px;width:136px"><svg class="flag" width="18" height="13" viewBox="0 0 18 13"><rect width="18" height="13" fill="#005eb8"/><path d="M0 0L18 13M18 0L0 13" stroke="#fff" stroke-width="2.4"/></svg><span class="call">108AT107</span></div><div class="c " style="left:276px;width:68px"><span class="op">Billy</span></div><div class="c bc" style="left:344px;width:91px"><span class="fq">27.590</span></div><div class="c " style="left:435px;width:53px"><span class="sp">-</span></div><div class="c bc" style="left:488px;width:55px"><span class="usb">USB</span></div><div class="c bc" style="left:543px;width:68px"><span class="rb rb-r">5/5</span></div><div class="c bc" style="left:611px;width:69px"><span class="rb rb-r">5/5</span></div><div class="c " style="left:680px;width:46px"><span class="bl">SP</span></div><div class="c " style="left:726px;width:39px"><span class="bl">WRK</span></div><div class="c bc" style="left:765px;width:51px"><span class="qb qb-r">No</span></div><div class="c " style="left:816px;width:91px"></div><div class="c " style="left:907px;width:91px"></div><div class="c bc" style="left:998px;width:51px"><span class="qb qb-r">No</span></div><div class="c " style="left:1049px;width:96px"><span class="bl"></span></div><div class="c " style="left:1145px;width:96px"><span class="bl"></span></div><div class="c l" style="left:1241px;width:122px"><span class="com">Best 73</span></div><div class="c " style="left:1363px;width:81px"><svg class="ic pen" width="11.5" height="11.5" viewBox="0 0 16 16"><path fill="#ffc107" d="M12.146.146a.5.5 0 0 1 .708 0l3 3a.5.5 0 0 1 0 .708l-10 10a.5.5 0 0 1-.168.11l-5 2a.5.5 0 0 1-.65-.65l2-5a.5.5 0 0 1 .11-.168zM11.207 2.5 13.5 4.793 14.793 3.5 12.5 1.207zm1.586 3L10.5 3.207 4 9.707V10h.5a.5.5 0 0 1 .5.5v.5h.5a.5.5 0 0 1 .5.5v.5h.293zm-9.761 5.175-.106.106-1.528 3.821 3.821-1.528.106-.106A.5.5 0 0 1 5 12.5V12h-.5a.5.5 0 0 1-.5-.5V11h-.5a.5.5 0 0 1-.468-.325"/></svg><svg class="ic tr" width="11" height="11" viewBox="0 0 16 16"><path fill="#dc3545" d="M6.5 1h3a.5.5 0 0 1 .5.5v1H6v-1a.5.5 0 0 1 .5-.5M11 2.5v-1A1.5 1.5 0 0 0 9.5 0h-3A1.5 1.5 0 0 0 5 1.5v1H1.5a.5.5 0 0 0 0 1h.538l.853 10.66A2 2 0 0 0 4.885 16h6.23a2 2 0 0 0 1.994-1.84l.853-10.66h.538a.5.5 0 0 0 0-1zm1.958 1-.846 10.58a1 1 0 0 1-.997.92h-6.23a1 1 0 0 1-.997-.92L3.042 3.5zm-7.487 1a.5.5 0 0 1 .528.47l.5 8.5a.5.5 0 0 1-.998.06L5 5.03a.5.5 0 0 1 .47-.53Zm5.058 0a.5.5 0 0 1 .47.53l-.5 8.5a.5.5 0 1 1-.998-.06l.5-8.5a.5.5 0 0 1 .528-.47M8 4.5a.5.5 0 0 1 .5.5v8.5a.5.5 0 0 1-1 0V5a.5.5 0 0 1 .5-.5"/></svg></div><div class="c " style="left:1444px;width:62px"><svg class="ic up" width="11.5" height="11" viewBox="0 0 16 16" preserveAspectRatio="none"><path fill="#0dcaf0" d="M.5 9.9a.5.5 0 0 1 .5.5v2.5a1 1 0 0 0 1 1h12a1 1 0 0 0 1-1v-2.5a.5.5 0 0 1 1 0v2.5a2 2 0 0 1-2 2H2a2 2 0 0 1-2-2v-2.5a.5.5 0 0 1 .5-.5"/><path fill="#0dcaf0" d="M7.646 1.146a.5.5 0 0 1 .708 0l3 3a.5.5 0 0 1-.708.708L8.5 2.707V11.5a.5.5 0 0 1-1 0V2.707L5.354 4.854a.5.5 0 1 1-.708-.708z"/></svg><svg class="ic hg" width="9" height="13" viewBox="0 0 9 13"><rect x="0" y="0" width="9" height="1" fill="#9aa7b0"/><rect x="0" y="12" width="9" height="1" fill="#9aa7b0"/><path d="M0 1h9v1.6c0 1.9-2.4 3.2-3.9 3.9C6.6 7.2 9 8.5 9 10.4V12H0v-1.6C0 8.5 2.4 7.2 3.9 6.5 2.4 5.8 0 4.5 0 2.6z" fill="#bfe0f6"/><path d="M.9 1.8h7.2c0 1.8-2 3-3.3 4.2h-.6C2.9 4.8.9 3.6.9 1.8z" fill="#f2ae45"/><rect x="4.1" y="5.6" width=".8" height="4.6" fill="#f2ae45"/><path d="M1 11.9c.3-1.3 1.8-2 3.5-2s3.2.7 3.5 2z" fill="#f2ae45"/></svg></div></div><div class="row" style="top:373.26px"><div class="c " style="left:0px;width:140px"><span class="dt">17-Jul-25 17:37</span></div><div class="c l" style="left:140px;width:136px"><svg class="flag" width="18" height="13" viewBox="0 0 18 13"><rect width="18" height="13" fill="#fff"/><rect x="7.6" width="2.8" height="13" fill="#ce1124"/><rect y="5.1" width="18" height="2.8" fill="#ce1124"/></svg><span class="call">26CT000</span></div><div class="c " style="left:276px;width:68px"><span class="op">Jake</span></div><div class="c bc" style="left:344px;width:91px"><span class="fq">27.490</span></div><div class="c " style="left:435px;width:53px"><span class="sp">-</span></div><div class="c bc" style="left:488px;width:55px"><span class="usb">USB</span></div><div class="c bc" style="left:543px;width:68px"><span class="rb rb-y">5/8</span></div><div class="c bc" style="left:611px;width:69px"><span class="rb rb-y">5/8</span></div><div class="c " style="left:680px;width:46px"><span class="bl">SP</span></div><div class="c " style="left:726px;width:39px"><span class="bl">WRK</span></div><div class="c bc" style="left:765px;width:51px"><span class="qb qb-r">No</span></div><div class="c " style="left:816px;width:91px"></div><div class="c " style="left:907px;width:91px"></div><div class="c bc" style="left:998px;width:51px"><span class="qb qb-r">No</span></div><div class="c " style="left:1049px;width:96px"><span class="bl"></span></div><div class="c " style="left:1145px;width:96px"><span class="bl"></span></div><div class="c l" style="left:1241px;width:122px"><span class="com">73</span></div><div class="c " style="left:1363px;width:81px"><svg class="ic pen" width="11.5" height="11.5" viewBox="0 0 16 16"><path fill="#ffc107" d="M12.146.146a.5.5 0 0 1 .708 0l3 3a.5.5 0 0 1 0 .708l-10 10a.5.5 0 0 1-.168.11l-5 2a.5.5 0 0 1-.65-.65l2-5a.5.5 0 0 1 .11-.168zM11.207 2.5 13.5 4.793 14.793 3.5 12.5 1.207zm1.586 3L10.5 3.207 4 9.707V10h.5a.5.5 0 0 1 .5.5v.5h.5a.5.5 0 0 1 .5.5v.5h.293zm-9.761 5.175-.106.106-1.528 3.821 3.821-1.528.106-.106A.5.5 0 0 1 5 12.5V12h-.5a.5.5 0 0 1-.5-.5V11h-.5a.5.5 0 0 1-.468-.325"/></svg><svg class="ic tr" width="11" height="11" viewBox="0 0 16 16"><path fill="#dc3545" d="M6.5 1h3a.5.5 0 0 1 .5.5v1H6v-1a.5.5 0 0 1 .5-.5M11 2.5v-1A1.5 1.5 0 0 0 9.5 0h-3A1.5 1.5 0 0 0 5 1.5v1H1.5a.5.5 0 0 0 0 1h.538l.853 10.66A2 2 0 0 0 4.885 16h6.23a2 2 0 0 0 1.994-1.84l.853-10.66h.538a.5.5 0 0 0 0-1zm1.958 1-.846 10.58a1 1 0 0 1-.997.92h-6.23a1 1 0 0 1-.997-.92L3.042 3.5zm-7.487 1a.5.5 0 0 1 .528.47l.5 8.5a.5.5 0 0 1-.998.06L5 5.03a.5.5 0 0 1 .47-.53Zm5.058 0a.5.5 0 0 1 .47.53l-.5 8.5a.5.5 0 1 1-.998-.06l.5-8.5a.5.5 0 0 1 .528-.47M8 4.5a.5.5 0 0 1 .5.5v8.5a.5.5 0 0 1-1 0V5a.5.5 0 0 1 .5-.5"/></svg></div><div class="c " style="left:1444px;width:62px"><svg class="ic up" width="11.5" height="11" viewBox="0 0 16 16" preserveAspectRatio="none"><path fill="#0dcaf0" d="M.5 9.9a.5.5 0 0 1 .5.5v2.5a1 1 0 0 0 1 1h12a1 1 0 0 0 1-1v-2.5a.5.5 0 0 1 1 0v2.5a2 2 0 0 1-2 2H2a2 2 0 0 1-2-2v-2.5a.5.5 0 0 1 .5-.5"/><path fill="#0dcaf0" d="M7.646 1.146a.5.5 0 0 1 .708 0l3 3a.5.5 0 0 1-.708.708L8.5 2.707V11.5a.5.5 0 0 1-1 0V2.707L5.354 4.854a.5.5 0 1 1-.708-.708z"/></svg><svg class="ic hg" width="9" height="13" viewBox="0 0 9 13"><rect x="0" y="0" width="9" height="1" fill="#9aa7b0"/><rect x="0" y="12" width="9" height="1" fill="#9aa7b0"/><path d="M0 1h9v1.6c0 1.9-2.4 3.2-3.9 3.9C6.6 7.2 9 8.5 9 10.4V12H0v-1.6C0 8.5 2.4 7.2 3.9 6.5 2.4 5.8 0 4.5 0 2.6z" fill="#bfe0f6"/><path d="M.9 1.8h7.2c0 1.8-2 3-3.3 4.2h-.6C2.9 4.8.9 3.6.9 1.8z" fill="#f2ae45"/><rect x="4.1" y="5.6" width=".8" height="4.6" fill="#f2ae45"/><path d="M1 11.9c.3-1.3 1.8-2 3.5-2s3.2.7 3.5 2z" fill="#f2ae45"/></svg></div></div><div class="row" style="top:410.40px"><div class="c " style="left:0px;width:140px"><span class="dt">17-Jul-25 15:01</span></div><div class="c l" style="left:140px;width:136px"><svg class="flag" width="18" height="13" viewBox="0 0 18 13"><rect width="6" height="13" fill="#002b7f"/><rect x="6" width="6" height="13" fill="#fcd116"/><rect x="12" width="6" height="13" fill="#ce1126"/></svg><span class="call">233AT358</span></div><div class="c " style="left:276px;width:68px"><span class="op">Paulo</span></div><div class="c bc" style="left:344px;width:91px"><span class="fq">27.600</span></div><div class="c " style="left:435px;width:53px"><span class="sp">-</span></div><div class="c bc" style="left:488px;width:55px"><span class="usb">USB</span></div><div class="c bc" style="left:543px;width:68px"><span class="rb rb-y">5/7</span></div><div class="c bc" style="left:611px;width:69px"><span class="rb rb-y">5/7</span></div><div class="c " style="left:680px;width:46px"><span class="bl">SP</span></div><div class="c " style="left:726px;width:39px"><span class="bl">WRK</span></div><div class="c bc" style="left:765px;width:51px"><span class="qb qb-r">No</span></div><div class="c " style="left:816px;width:91px"></div><div class="c " style="left:907px;width:91px"></div><div class="c bc" style="left:998px;width:51px"><span class="qb qb-r">No</span></div><div class="c " style="left:1049px;width:96px"><span class="bl"></span></div><div class="c " style="left:1145px;width:96px"><span class="bl"></span></div><div class="c l" style="left:1241px;width:122px"><span class="com">-</span></div><div class="c " style="left:1363px;width:81px"><svg class="ic pen" width="11.5" height="11.5" viewBox="0 0 16 16"><path fill="#ffc107" d="M12.146.146a.5.5 0 0 1 .708 0l3 3a.5.5 0 0 1 0 .708l-10 10a.5.5 0 0 1-.168.11l-5 2a.5.5 0 0 1-.65-.65l2-5a.5.5 0 0 1 .11-.168zM11.207 2.5 13.5 4.793 14.793 3.5 12.5 1.207zm1.586 3L10.5 3.207 4 9.707V10h.5a.5.5 0 0 1 .5.5v.5h.5a.5.5 0 0 1 .5.5v.5h.293zm-9.761 5.175-.106.106-1.528 3.821 3.821-1.528.106-.106A.5.5 0 0 1 5 12.5V12h-.5a.5.5 0 0 1-.5-.5V11h-.5a.5.5 0 0 1-.468-.325"/></svg><svg class="ic tr" width="11" height="11" viewBox="0 0 16 16"><path fill="#dc3545" d="M6.5 1h3a.5.5 0 0 1 .5.5v1H6v-1a.5.5 0 0 1 .5-.5M11 2.5v-1A1.5 1.5 0 0 0 9.5 0h-3A1.5 1.5 0 0 0 5 1.5v1H1.5a.5.5 0 0 0 0 1h.538l.853 10.66A2 2 0 0 0 4.885 16h6.23a2 2 0 0 0 1.994-1.84l.853-10.66h.538a.5.5 0 0 0 0-1zm1.958 1-.846 10.58a1 1 0 0 1-.997.92h-6.23a1 1 0 0 1-.997-.92L3.042 3.5zm-7.487 1a.5.5 0 0 1 .528.47l.5 8.5a.5.5 0 0 1-.998.06L5 5.03a.5.5 0 0 1 .47-.53Zm5.058 0a.5.5 0 0 1 .47.53l-.5 8.5a.5.5 0 1 1-.998-.06l.5-8.5a.5.5 0 0 1 .528-.47M8 4.5a.5.5 0 0 1 .5.5v8.5a.5.5 0 0 1-1 0V5a.5.5 0 0 1 .5-.5"/></svg></div><div class="c " style="left:1444px;width:62px"><svg class="ic up" width="11.5" height="11" viewBox="0 0 16 16" preserveAspectRatio="none"><path fill="#0dcaf0" d="M.5 9.9a.5.5 0 0 1 .5.5v2.5a1 1 0 0 0 1 1h12a1 1 0 0 0 1-1v-2.5a.5.5 0 0 1 1 0v2.5a2 2 0 0 1-2 2H2a2 2 0 0 1-2-2v-2.5a.5.5 0 0 1 .5-.5"/><path fill="#0dcaf0" d="M7.646 1.146a.5.5 0 0 1 .708 0l3 3a.5.5 0 0 1-.708.708L8.5 2.707V11.5a.5.5 0 0 1-1 0V2.707L5.354 4.854a.5.5 0 1 1-.708-.708z"/></svg><svg class="ic hg" width="9" height="13" viewBox="0 0 9 13"><rect x="0" y="0" width="9" height="1" fill="#9aa7b0"/><rect x="0" y="12" width="9" height="1" fill="#9aa7b0"/><path d="M0 1h9v1.6c0 1.9-2.4 3.2-3.9 3.9C6.6 7.2 9 8.5 9 10.4V12H0v-1.6C0 8.5 2.4 7.2 3.9 6.5 2.4 5.8 0 4.5 0 2.6z" fill="#bfe0f6"/><path d="M.9 1.8h7.2c0 1.8-2 3-3.3 4.2h-.6C2.9 4.8.9 3.6.9 1.8z" fill="#f2ae45"/><rect x="4.1" y="5.6" width=".8" height="4.6" fill="#f2ae45"/><path d="M1 11.9c.3-1.3 1.8-2 3.5-2s3.2.7 3.5 2z" fill="#f2ae45"/></svg></div></div><div class="row" style="top:447.54px"><div class="c " style="left:0px;width:140px"><span class="dt">17-Jul-25 10:20</span></div><div class="c l" style="left:140px;width:136px"><svg class="flag" width="18" height="13" viewBox="0 0 18 13"><rect width="18" height="6.5" fill="#fff"/><rect y="6.5" width="18" height="6.5" fill="#dc143c"/></svg><span class="call">161WGC238</span></div><div class="c " style="left:276px;width:68px"><span class="op">Luk</span></div><div class="c bc" style="left:344px;width:91px"><span class="fq">27.585</span></div><div class="c " style="left:435px;width:53px"><span class="sp">-</span></div><div class="c bc" style="left:488px;width:55px"><span class="usb">USB</span></div><div class="c bc" style="left:543px;width:68px"><span class="rb rb-y">5/7</span></div><div class="c bc" style="left:611px;width:69px"><span class="rb rb-y">5/7</span></div><div class="c " style="left:680px;width:46px"><span class="bl">SP</span></div><div class="c " style="left:726px;width:39px"><span class="bl">WRK</span></div><div class="c bc" style="left:765px;width:51px"><span class="qb qb-r">No</span></div><div class="c " style="left:816px;width:91px"></div><div class="c " style="left:907px;width:91px"></div><div class="c bc" style="left:998px;width:51px"><span class="qb qb-r">No</span></div><div class="c " style="left:1049px;width:96px"><span class="bl"></span></div><div class="c " style="left:1145px;width:96px"><span class="bl"></span></div><div class="c l" style="left:1241px;width:122px"><span class="com">Best 73</span></div><div class="c " style="left:1363px;width:81px"><svg class="ic pen" width="11.5" height="11.5" viewBox="0 0 16 16"><path fill="#ffc107" d="M12.146.146a.5.5 0 0 1 .708 0l3 3a.5.5 0 0 1 0 .708l-10 10a.5.5 0 0 1-.168.11l-5 2a.5.5 0 0 1-.65-.65l2-5a.5.5 0 0 1 .11-.168zM11.207 2.5 13.5 4.793 14.793 3.5 12.5 1.207zm1.586 3L10.5 3.207 4 9.707V10h.5a.5.5 0 0 1 .5.5v.5h.5a.5.5 0 0 1 .5.5v.5h.293zm-9.761 5.175-.106.106-1.528 3.821 3.821-1.528.106-.106A.5.5 0 0 1 5 12.5V12h-.5a.5.5 0 0 1-.5-.5V11h-.5a.5.5 0 0 1-.468-.325"/></svg><svg class="ic tr" width="11" height="11" viewBox="0 0 16 16"><path fill="#dc3545" d="M6.5 1h3a.5.5 0 0 1 .5.5v1H6v-1a.5.5 0 0 1 .5-.5M11 2.5v-1A1.5 1.5 0 0 0 9.5 0h-3A1.5 1.5 0 0 0 5 1.5v1H1.5a.5.5 0 0 0 0 1h.538l.853 10.66A2 2 0 0 0 4.885 16h6.23a2 2 0 0 0 1.994-1.84l.853-10.66h.538a.5.5 0 0 0 0-1zm1.958 1-.846 10.58a1 1 0 0 1-.997.92h-6.23a1 1 0 0 1-.997-.92L3.042 3.5zm-7.487 1a.5.5 0 0 1 .528.47l.5 8.5a.5.5 0 0 1-.998.06L5 5.03a.5.5 0 0 1 .47-.53Zm5.058 0a.5.5 0 0 1 .47.53l-.5 8.5a.5.5 0 1 1-.998-.06l.5-8.5a.5.5 0 0 1 .528-.47M8 4.5a.5.5 0 0 1 .5.5v8.5a.5.5 0 0 1-1 0V5a.5.5 0 0 1 .5-.5"/></svg></div><div class="c " style="left:1444px;width:62px"><svg class="ic up" width="11.5" height="11" viewBox="0 0 16 16" preserveAspectRatio="none"><path fill="#0dcaf0" d="M.5 9.9a.5.5 0 0 1 .5.5v2.5a1 1 0 0 0 1 1h12a1 1 0 0 0 1-1v-2.5a.5.5 0 0 1 1 0v2.5a2 2 0 0 1-2 2H2a2 2 0 0 1-2-2v-2.5a.5.5 0 0 1 .5-.5"/><path fill="#0dcaf0" d="M7.646 1.146a.5.5 0 0 1 .708 0l3 3a.5.5 0 0 1-.708.708L8.5 2.707V11.5a.5.5 0 0 1-1 0V2.707L5.354 4.854a.5.5 0 1 1-.708-.708z"/></svg><svg class="ic hg" width="9" height="13" viewBox="0 0 9 13"><rect x="0" y="0" width="9" height="1" fill="#9aa7b0"/><rect x="0" y="12" width="9" height="1" fill="#9aa7b0"/><path d="M0 1h9v1.6c0 1.9-2.4 3.2-3.9 3.9C6.6 7.2 9 8.5 9 10.4V12H0v-1.6C0 8.5 2.4 7.2 3.9 6.5 2.4 5.8 0 4.5 0 2.6z" fill="#bfe0f6"/><path d="M.9 1.8h7.2c0 1.8-2 3-3.3 4.2h-.6C2.9 4.8.9 3.6.9 1.8z" fill="#f2ae45"/><rect x="4.1" y="5.6" width=".8" height="4.6" fill="#f2ae45"/><path d="M1 11.9c.3-1.3 1.8-2 3.5-2s3.2.7 3.5 2z" fill="#f2ae45"/></svg></div></div><div class="row" style="top:484.68px"><div class="c " style="left:0px;width:140px"><span class="dt">17-Jul-25 10:08</span></div><div class="c l" style="left:140px;width:136px"><svg class="flag" width="18" height="13" viewBox="0 0 18 13"><rect width="18" height="4.33" fill="#ff0000"/><rect y="4.33" width="18" height="4.34" fill="#fff"/><rect y="8.67" width="18" height="4.33" fill="#171796"/><rect x="7.2" y="2.4" width="3.6" height="6.6" rx="1.4" fill="#f0686a"/><rect x="7.2" y="2.2" width="3.6" height="1.4" fill="#6b7bd6"/></svg><span class="call">328LR/DX</span></div><div class="c " style="left:276px;width:68px"><span class="op">Rainer</span></div><div class="c bc" style="left:344px;width:91px"><span class="fq">27.540</span></div><div class="c " style="left:435px;width:53px"><span class="sp">-</span></div><div class="c bc" style="left:488px;width:55px"><span class="usb">USB</span></div><div class="c bc" style="left:543px;width:68px"><span class="rb rb-y">5/7</span></div><div class="c bc" style="left:611px;width:69px"><span class="rb rb-y">5/7</span></div><div class="c " style="left:680px;width:46px"><span class="bl">SP</span></div><div class="c " style="left:726px;width:39px"><span class="bl">WRK</span></div><div class="c bc" style="left:765px;width:51px"><span class="qb qb-r">No</span></div><div class="c " style="left:816px;width:91px"></div><div class="c " style="left:907px;width:91px"></div><div class="c bc" style="left:998px;width:51px"><span class="qb qb-r">No</span></div><div class="c " style="left:1049px;width:96px"><span class="bl"></span></div><div class="c " style="left:1145px;width:96px"><span class="bl"></span></div><div class="c l" style="left:1241px;width:122px"><span class="com">73</span></div><div class="c " style="left:1363px;width:81px"><svg class="ic pen" width="11.5" height="11.5" viewBox="0 0 16 16"><path fill="#ffc107" d="M12.146.146a.5.5 0 0 1 .708 0l3 3a.5.5 0 0 1 0 .708l-10 10a.5.5 0 0 1-.168.11l-5 2a.5.5 0 0 1-.65-.65l2-5a.5.5 0 0 1 .11-.168zM11.207 2.5 13.5 4.793 14.793 3.5 12.5 1.207zm1.586 3L10.5 3.207 4 9.707V10h.5a.5.5 0 0 1 .5.5v.5h.5a.5.5 0 0 1 .5.5v.5h.293zm-9.761 5.175-.106.106-1.528 3.821 3.821-1.528.106-.106A.5.5 0 0 1 5 12.5V12h-.5a.5.5 0 0 1-.5-.5V11h-.5a.5.5 0 0 1-.468-.325"/></svg><svg class="ic tr" width="11" height="11" viewBox="0 0 16 16"><path fill="#dc3545" d="M6.5 1h3a.5.5 0 0 1 .5.5v1H6v-1a.5.5 0 0 1 .5-.5M11 2.5v-1A1.5 1.5 0 0 0 9.5 0h-3A1.5 1.5 0 0 0 5 1.5v1H1.5a.5.5 0 0 0 0 1h.538l.853 10.66A2 2 0 0 0 4.885 16h6.23a2 2 0 0 0 1.994-1.84l.853-10.66h.538a.5.5 0 0 0 0-1zm1.958 1-.846 10.58a1 1 0 0 1-.997.92h-6.23a1 1 0 0 1-.997-.92L3.042 3.5zm-7.487 1a.5.5 0 0 1 .528.47l.5 8.5a.5.5 0 0 1-.998.06L5 5.03a.5.5 0 0 1 .47-.53Zm5.058 0a.5.5 0 0 1 .47.53l-.5 8.5a.5.5 0 1 1-.998-.06l.5-8.5a.5.5 0 0 1 .528-.47M8 4.5a.5.5 0 0 1 .5.5v8.5a.5.5 0 0 1-1 0V5a.5.5 0 0 1 .5-.5"/></svg></div><div class="c " style="left:1444px;width:62px"><svg class="ic up" width="11.5" height="11" viewBox="0 0 16 16" preserveAspectRatio="none"><path fill="#0dcaf0" d="M.5 9.9a.5.5 0 0 1 .5.5v2.5a1 1 0 0 0 1 1h12a1 1 0 0 0 1-1v-2.5a.5.5 0 0 1 1 0v2.5a2 2 0 0 1-2 2H2a2 2 0 0 1-2-2v-2.5a.5.5 0 0 1 .5-.5"/><path fill="#0dcaf0" d="M7.646 1.146a.5.5 0 0 1 .708 0l3 3a.5.5 0 0 1-.708.708L8.5 2.707V11.5a.5.5 0 0 1-1 0V2.707L5.354 4.854a.5.5 0 1 1-.708-.708z"/></svg><svg class="ic hg" width="9" height="13" viewBox="0 0 9 13"><rect x="0" y="0" width="9" height="1" fill="#9aa7b0"/><rect x="0" y="12" width="9" height="1" fill="#9aa7b0"/><path d="M0 1h9v1.6c0 1.9-2.4 3.2-3.9 3.9C6.6 7.2 9 8.5 9 10.4V12H0v-1.6C0 8.5 2.4 7.2 3.9 6.5 2.4 5.8 0 4.5 0 2.6z" fill="#bfe0f6"/><path d="M.9 1.8h7.2c0 1.8-2 3-3.3 4.2h-.6C2.9 4.8.9 3.6.9 1.8z" fill="#f2ae45"/><rect x="4.1" y="5.6" width=".8" height="4.6" fill="#f2ae45"/><path d="M1 11.9c.3-1.3 1.8-2 3.5-2s3.2.7 3.5 2z" fill="#f2ae45"/></svg></div></div><div class="row" style="top:521.82px"><div class="c " style="left:0px;width:140px"><span class="dt">17-Jul-25 10:00</span></div><div class="c l" style="left:140px;width:136px"><svg class="flag" width="18" height="13" viewBox="0 0 18 13"><rect width="6" height="13" fill="#009246"/><rect x="6" width="6" height="13" fill="#fff"/><rect x="12" width="6" height="13" fill="#ce2b37"/></svg><span class="call">1AT/D027</span></div><div class="c " style="left:276px;width:68px"><span class="op">Luca</span></div><div class="c bc" style="left:344px;width:91px"><span class="fq">27.670</span></div><div class="c " style="left:435px;width:53px"><span class="sp">-</span></div><div class="c bc" style="left:488px;width:55px"><span class="usb">USB</span></div><div class="c bc" style="left:543px;width:68px"><span class="rb rb-r">5/5</span></div><div class="c bc" style="left:611px;width:69px"><span class="rb rb-r">5/5</span></div><div class="c " style="left:680px;width:46px"><span class="bl">SP</span></div><div class="c " style="left:726px;width:39px"><span class="bl">WRK</span></div><div class="c bc" style="left:765px;width:51px"><span class="qb qb-r">No</span></div><div class="c " style="left:816px;width:91px"></div><div class="c " style="left:907px;width:91px"></div><div class="c bc" style="left:998px;width:51px"><span class="qb qb-r">No</span></div><div class="c " style="left:1049px;width:96px"><span class="bl"></span></div><div class="c " style="left:1145px;width:96px"><span class="bl"></span></div><div class="c l" style="left:1241px;width:122px"><span class="com">IMA</span></div><div class="c " style="left:1363px;width:81px"><svg class="ic pen" width="11.5" height="11.5" viewBox="0 0 16 16"><path fill="#ffc107" d="M12.146.146a.5.5 0 0 1 .708 0l3 3a.5.5 0 0 1 0 .708l-10 10a.5.5 0 0 1-.168.11l-5 2a.5.5 0 0 1-.65-.65l2-5a.5.5 0 0 1 .11-.168zM11.207 2.5 13.5 4.793 14.793 3.5 12.5 1.207zm1.586 3L10.5 3.207 4 9.707V10h.5a.5.5 0 0 1 .5.5v.5h.5a.5.5 0 0 1 .5.5v.5h.293zm-9.761 5.175-.106.106-1.528 3.821 3.821-1.528.106-.106A.5.5 0 0 1 5 12.5V12h-.5a.5.5 0 0 1-.5-.5V11h-.5a.5.5 0 0 1-.468-.325"/></svg><svg class="ic tr" width="11" height="11" viewBox="0 0 16 16"><path fill="#dc3545" d="M6.5 1h3a.5.5 0 0 1 .5.5v1H6v-1a.5.5 0 0 1 .5-.5M11 2.5v-1A1.5 1.5 0 0 0 9.5 0h-3A1.5 1.5 0 0 0 5 1.5v1H1.5a.5.5 0 0 0 0 1h.538l.853 10.66A2 2 0 0 0 4.885 16h6.23a2 2 0 0 0 1.994-1.84l.853-10.66h.538a.5.5 0 0 0 0-1zm1.958 1-.846 10.58a1 1 0 0 1-.997.92h-6.23a1 1 0 0 1-.997-.92L3.042 3.5zm-7.487 1a.5.5 0 0 1 .528.47l.5 8.5a.5.5 0 0 1-.998.06L5 5.03a.5.5 0 0 1 .47-.53Zm5.058 0a.5.5 0 0 1 .47.53l-.5 8.5a.5.5 0 1 1-.998-.06l.5-8.5a.5.5 0 0 1 .528-.47M8 4.5a.5.5 0 0 1 .5.5v8.5a.5.5 0 0 1-1 0V5a.5.5 0 0 1 .5-.5"/></svg></div><div class="c " style="left:1444px;width:62px"><svg class="ic up" width="11.5" height="11" viewBox="0 0 16 16" preserveAspectRatio="none"><path fill="#0dcaf0" d="M.5 9.9a.5.5 0 0 1 .5.5v2.5a1 1 0 0 0 1 1h12a1 1 0 0 0 1-1v-2.5a.5.5 0 0 1 1 0v2.5a2 2 0 0 1-2 2H2a2 2 0 0 1-2-2v-2.5a.5.5 0 0 1 .5-.5"/><path fill="#0dcaf0" d="M7.646 1.146a.5.5 0 0 1 .708 0l3 3a.5.5 0 0 1-.708.708L8.5 2.707V11.5a.5.5 0 0 1-1 0V2.707L5.354 4.854a.5.5 0 1 1-.708-.708z"/></svg><svg class="ic hg" width="9" height="13" viewBox="0 0 9 13"><rect x="0" y="0" width="9" height="1" fill="#9aa7b0"/><rect x="0" y="12" width="9" height="1" fill="#9aa7b0"/><path d="M0 1h9v1.6c0 1.9-2.4 3.2-3.9 3.9C6.6 7.2 9 8.5 9 10.4V12H0v-1.6C0 8.5 2.4 7.2 3.9 6.5 2.4 5.8 0 4.5 0 2.6z" fill="#bfe0f6"/><path d="M.9 1.8h7.2c0 1.8-2 3-3.3 4.2h-.6C2.9 4.8.9 3.6.9 1.8z" fill="#f2ae45"/><rect x="4.1" y="5.6" width=".8" height="4.6" fill="#f2ae45"/><path d="M1 11.9c.3-1.3 1.8-2 3.5-2s3.2.7 3.5 2z" fill="#f2ae45"/></svg></div></div><div class="row" style="top:558.96px"><div class="c " style="left:0px;width:140px"><span class="dt">16-Jul-25 18:49</span></div><div class="c l" style="left:140px;width:136px"><svg class="flag" width="18" height="13" viewBox="0 0 18 13"><rect width="18" height="4.33" fill="#ae1c28"/><rect y="4.33" width="18" height="4.34" fill="#fff"/><rect y="8.67" width="18" height="4.33" fill="#21468b"/></svg><span class="call">19AT060</span></div><div class="c " style="left:276px;width:68px"><span class="op">Marcel</span></div><div class="c bc" style="left:344px;width:91px"><span class="fq">27.480</span></div><div class="c " style="left:435px;width:53px"><span class="sp">-</span></div><div class="c bc" style="left:488px;width:55px"><span class="usb">USB</span></div><div class="c bc" style="left:543px;width:68px"><span class="rb rb-g">5/9</span></div><div class="c bc" style="left:611px;width:69px"><span class="rb rb-g">5/9</span></div><div class="c " style="left:680px;width:46px"><span class="bl">SP</span></div><div class="c " style="left:726px;width:39px"><span class="bl">WRK</span></div><div class="c bc" style="left:765px;width:51px"><span class="qb qb-r">No</span></div><div class="c " style="left:816px;width:91px"></div><div class="c " style="left:907px;width:91px"></div><div class="c bc" style="left:998px;width:51px"><span class="qb qb-r">No</span></div><div class="c " style="left:1049px;width:96px"><span class="bl"></span></div><div class="c " style="left:1145px;width:96px"><span class="bl"></span></div><div class="c l" style="left:1241px;width:122px"><span class="com">Nany thx 73</span></div><div class="c " style="left:1363px;width:81px"><svg class="ic pen" width="11.5" height="11.5" viewBox="0 0 16 16"><path fill="#ffc107" d="M12.146.146a.5.5 0 0 1 .708 0l3 3a.5.5 0 0 1 0 .708l-10 10a.5.5 0 0 1-.168.11l-5 2a.5.5 0 0 1-.65-.65l2-5a.5.5 0 0 1 .11-.168zM11.207 2.5 13.5 4.793 14.793 3.5 12.5 1.207zm1.586 3L10.5 3.207 4 9.707V10h.5a.5.5 0 0 1 .5.5v.5h.5a.5.5 0 0 1 .5.5v.5h.293zm-9.761 5.175-.106.106-1.528 3.821 3.821-1.528.106-.106A.5.5 0 0 1 5 12.5V12h-.5a.5.5 0 0 1-.5-.5V11h-.5a.5.5 0 0 1-.468-.325"/></svg><svg class="ic tr" width="11" height="11" viewBox="0 0 16 16"><path fill="#dc3545" d="M6.5 1h3a.5.5 0 0 1 .5.5v1H6v-1a.5.5 0 0 1 .5-.5M11 2.5v-1A1.5 1.5 0 0 0 9.5 0h-3A1.5 1.5 0 0 0 5 1.5v1H1.5a.5.5 0 0 0 0 1h.538l.853 10.66A2 2 0 0 0 4.885 16h6.23a2 2 0 0 0 1.994-1.84l.853-10.66h.538a.5.5 0 0 0 0-1zm1.958 1-.846 10.58a1 1 0 0 1-.997.92h-6.23a1 1 0 0 1-.997-.92L3.042 3.5zm-7.487 1a.5.5 0 0 1 .528.47l.5 8.5a.5.5 0 0 1-.998.06L5 5.03a.5.5 0 0 1 .47-.53Zm5.058 0a.5.5 0 0 1 .47.53l-.5 8.5a.5.5 0 1 1-.998-.06l.5-8.5a.5.5 0 0 1 .528-.47M8 4.5a.5.5 0 0 1 .5.5v8.5a.5.5 0 0 1-1 0V5a.5.5 0 0 1 .5-.5"/></svg></div><div class="c " style="left:1444px;width:62px"><svg class="ic up" width="11.5" height="11" viewBox="0 0 16 16" preserveAspectRatio="none"><path fill="#0dcaf0" d="M.5 9.9a.5.5 0 0 1 .5.5v2.5a1 1 0 0 0 1 1h12a1 1 0 0 0 1-1v-2.5a.5.5 0 0 1 1 0v2.5a2 2 0 0 1-2 2H2a2 2 0 0 1-2-2v-2.5a.5.5 0 0 1 .5-.5"/><path fill="#0dcaf0" d="M7.646 1.146a.5.5 0 0 1 .708 0l3 3a.5.5 0 0 1-.708.708L8.5 2.707V11.5a.5.5 0 0 1-1 0V2.707L5.354 4.854a.5.5 0 1 1-.708-.708z"/></svg><svg class="ic hg" width="9" height="13" viewBox="0 0 9 13"><rect x="0" y="0" width="9" height="1" fill="#9aa7b0"/><rect x="0" y="12" width="9" height="1" fill="#9aa7b0"/><path d="M0 1h9v1.6c0 1.9-2.4 3.2-3.9 3.9C6.6 7.2 9 8.5 9 10.4V12H0v-1.6C0 8.5 2.4 7.2 3.9 6.5 2.4 5.8 0 4.5 0 2.6z" fill="#bfe0f6"/><path d="M.9 1.8h7.2c0 1.8-2 3-3.3 4.2h-.6C2.9 4.8.9 3.6.9 1.8z" fill="#f2ae45"/><rect x="4.1" y="5.6" width=".8" height="4.6" fill="#f2ae45"/><path d="M1 11.9c.3-1.3 1.8-2 3.5-2s3.2.7 3.5 2z" fill="#f2ae45"/></svg></div></div><div class="row" style="top:596.10px"><div class="c " style="left:0px;width:140px"><span class="dt">16-Jul-25 18:48</span></div><div class="c l" style="left:140px;width:136px"><svg class="flag" width="18" height="13" viewBox="0 0 18 13"><rect width="18" height="4.33" fill="#ae1c28"/><rect y="4.33" width="18" height="4.34" fill="#fff"/><rect y="8.67" width="18" height="4.33" fill="#21468b"/></svg><span class="call">19AT210</span></div><div class="c " style="left:276px;width:68px"><span class="op">Mark</span></div><div class="c bc" style="left:344px;width:91px"><span class="fq">27.480</span></div><div class="c " style="left:435px;width:53px"><span class="sp">-</span></div><div class="c bc" style="left:488px;width:55px"><span class="usb">USB</span></div><div class="c bc" style="left:543px;width:68px"><span class="rb rb-g">5/9</span></div><div class="c bc" style="left:611px;width:69px"><span class="rb rb-g">5/9</span></div><div class="c " style="left:680px;width:46px"><span class="bl">SP</span></div><div class="c " style="left:726px;width:39px"><span class="bl">WRK</span></div><div class="c bc" style="left:765px;width:51px"><span class="qb qb-r">No</span></div><div class="c " style="left:816px;width:91px"></div><div class="c " style="left:907px;width:91px"></div><div class="c bc" style="left:998px;width:51px"><span class="qb qb-r">No</span></div><div class="c " style="left:1049px;width:96px"><span class="bl"></span></div><div class="c " style="left:1145px;width:96px"><span class="bl"></span></div><div class="c l" style="left:1241px;width:122px"><span class="com">-</span></div><div class="c " style="left:1363px;width:81px"><svg class="ic pen" width="11.5" height="11.5" viewBox="0 0 16 16"><path fill="#ffc107" d="M12.146.146a.5.5 0 0 1 .708 0l3 3a.5.5 0 0 1 0 .708l-10 10a.5.5 0 0 1-.168.11l-5 2a.5.5 0 0 1-.65-.65l2-5a.5.5 0 0 1 .11-.168zM11.207 2.5 13.5 4.793 14.793 3.5 12.5 1.207zm1.586 3L10.5 3.207 4 9.707V10h.5a.5.5 0 0 1 .5.5v.5h.5a.5.5 0 0 1 .5.5v.5h.293zm-9.761 5.175-.106.106-1.528 3.821 3.821-1.528.106-.106A.5.5 0 0 1 5 12.5V12h-.5a.5.5 0 0 1-.5-.5V11h-.5a.5.5 0 0 1-.468-.325"/></svg><svg class="ic tr" width="11" height="11" viewBox="0 0 16 16"><path fill="#dc3545" d="M6.5 1h3a.5.5 0 0 1 .5.5v1H6v-1a.5.5 0 0 1 .5-.5M11 2.5v-1A1.5 1.5 0 0 0 9.5 0h-3A1.5 1.5 0 0 0 5 1.5v1H1.5a.5.5 0 0 0 0 1h.538l.853 10.66A2 2 0 0 0 4.885 16h6.23a2 2 0 0 0 1.994-1.84l.853-10.66h.538a.5.5 0 0 0 0-1zm1.958 1-.846 10.58a1 1 0 0 1-.997.92h-6.23a1 1 0 0 1-.997-.92L3.042 3.5zm-7.487 1a.5.5 0 0 1 .528.47l.5 8.5a.5.5 0 0 1-.998.06L5 5.03a.5.5 0 0 1 .47-.53Zm5.058 0a.5.5 0 0 1 .47.53l-.5 8.5a.5.5 0 1 1-.998-.06l.5-8.5a.5.5 0 0 1 .528-.47M8 4.5a.5.5 0 0 1 .5.5v8.5a.5.5 0 0 1-1 0V5a.5.5 0 0 1 .5-.5"/></svg></div><div class="c " style="left:1444px;width:62px"><svg class="ic up" width="11.5" height="11" viewBox="0 0 16 16" preserveAspectRatio="none"><path fill="#0dcaf0" d="M.5 9.9a.5.5 0 0 1 .5.5v2.5a1 1 0 0 0 1 1h12a1 1 0 0 0 1-1v-2.5a.5.5 0 0 1 1 0v2.5a2 2 0 0 1-2 2H2a2 2 0 0 1-2-2v-2.5a.5.5 0 0 1 .5-.5"/><path fill="#0dcaf0" d="M7.646 1.146a.5.5 0 0 1 .708 0l3 3a.5.5 0 0 1-.708.708L8.5 2.707V11.5a.5.5 0 0 1-1 0V2.707L5.354 4.854a.5.5 0 1 1-.708-.708z"/></svg><svg class="ic hg" width="9" height="13" viewBox="0 0 9 13"><rect x="0" y="0" width="9" height="1" fill="#9aa7b0"/><rect x="0" y="12" width="9" height="1" fill="#9aa7b0"/><path d="M0 1h9v1.6c0 1.9-2.4 3.2-3.9 3.9C6.6 7.2 9 8.5 9 10.4V12H0v-1.6C0 8.5 2.4 7.2 3.9 6.5 2.4 5.8 0 4.5 0 2.6z" fill="#bfe0f6"/><path d="M.9 1.8h7.2c0 1.8-2 3-3.3 4.2h-.6C2.9 4.8.9 3.6.9 1.8z" fill="#f2ae45"/><rect x="4.1" y="5.6" width=".8" height="4.6" fill="#f2ae45"/><path d="M1 11.9c.3-1.3 1.8-2 3.5-2s3.2.7 3.5 2z" fill="#f2ae45"/></svg></div></div><div class="row" style="top:633.24px"><div class="c " style="left:0px;width:140px"><span class="dt">16-Jul-25 18:47</span></div><div class="c l" style="left:140px;width:136px"><svg class="flag" width="18" height="13" viewBox="0 0 18 13"><rect width="18" height="4.33" fill="#ae1c28"/><rect y="4.33" width="18" height="4.34" fill="#fff"/><rect y="8.67" width="18" height="4.33" fill="#21468b"/></svg><span class="call">19AT371</span></div><div class="c " style="left:276px;width:68px"><span class="op">Freddy</span></div><div class="c bc" style="left:344px;width:91px"><span class="fq">27.480</span></div><div class="c " style="left:435px;width:53px"><span class="sp">-</span></div><div class="c bc" style="left:488px;width:55px"><span class="usb">USB</span></div><div class="c bc" style="left:543px;width:68px"><span class="rb rb-g">5/9</span></div><div class="c bc" style="left:611px;width:69px"><span class="rb rb-g">5/9</span></div><div class="c " style="left:680px;width:46px"><span class="bl">SP</span></div><div class="c " style="left:726px;width:39px"><span class="bl">WRK</span></div><div class="c bc" style="left:765px;width:51px"><span class="qb qb-r">No</span></div><div class="c " style="left:816px;width:91px"></div><div class="c " style="left:907px;width:91px"></div><div class="c bc" style="left:998px;width:51px"><span class="qb qb-r">No</span></div><div class="c " style="left:1049px;width:96px"><span class="bl"></span></div><div class="c " style="left:1145px;width:96px"><span class="bl"></span></div><div class="c l" style="left:1241px;width:122px"><span class="com">Thank you Be…</span></div><div class="c " style="left:1363px;width:81px"><svg class="ic pen" width="11.5" height="11.5" viewBox="0 0 16 16"><path fill="#ffc107" d="M12.146.146a.5.5 0 0 1 .708 0l3 3a.5.5 0 0 1 0 .708l-10 10a.5.5 0 0 1-.168.11l-5 2a.5.5 0 0 1-.65-.65l2-5a.5.5 0 0 1 .11-.168zM11.207 2.5 13.5 4.793 14.793 3.5 12.5 1.207zm1.586 3L10.5 3.207 4 9.707V10h.5a.5.5 0 0 1 .5.5v.5h.5a.5.5 0 0 1 .5.5v.5h.293zm-9.761 5.175-.106.106-1.528 3.821 3.821-1.528.106-.106A.5.5 0 0 1 5 12.5V12h-.5a.5.5 0 0 1-.5-.5V11h-.5a.5.5 0 0 1-.468-.325"/></svg><svg class="ic tr" width="11" height="11" viewBox="0 0 16 16"><path fill="#dc3545" d="M6.5 1h3a.5.5 0 0 1 .5.5v1H6v-1a.5.5 0 0 1 .5-.5M11 2.5v-1A1.5 1.5 0 0 0 9.5 0h-3A1.5 1.5 0 0 0 5 1.5v1H1.5a.5.5 0 0 0 0 1h.538l.853 10.66A2 2 0 0 0 4.885 16h6.23a2 2 0 0 0 1.994-1.84l.853-10.66h.538a.5.5 0 0 0 0-1zm1.958 1-.846 10.58a1 1 0 0 1-.997.92h-6.23a1 1 0 0 1-.997-.92L3.042 3.5zm-7.487 1a.5.5 0 0 1 .528.47l.5 8.5a.5.5 0 0 1-.998.06L5 5.03a.5.5 0 0 1 .47-.53Zm5.058 0a.5.5 0 0 1 .47.53l-.5 8.5a.5.5 0 1 1-.998-.06l.5-8.5a.5.5 0 0 1 .528-.47M8 4.5a.5.5 0 0 1 .5.5v8.5a.5.5 0 0 1-1 0V5a.5.5 0 0 1 .5-.5"/></svg></div><div class="c " style="left:1444px;width:62px"><svg class="ic up" width="11.5" height="11" viewBox="0 0 16 16" preserveAspectRatio="none"><path fill="#0dcaf0" d="M.5 9.9a.5.5 0 0 1 .5.5v2.5a1 1 0 0 0 1 1h12a1 1 0 0 0 1-1v-2.5a.5.5 0 0 1 1 0v2.5a2 2 0 0 1-2 2H2a2 2 0 0 1-2-2v-2.5a.5.5 0 0 1 .5-.5"/><path fill="#0dcaf0" d="M7.646 1.146a.5.5 0 0 1 .708 0l3 3a.5.5 0 0 1-.708.708L8.5 2.707V11.5a.5.5 0 0 1-1 0V2.707L5.354 4.854a.5.5 0 1 1-.708-.708z"/></svg><svg class="ic hg" width="9" height="13" viewBox="0 0 9 13"><rect x="0" y="0" width="9" height="1" fill="#9aa7b0"/><rect x="0" y="12" width="9" height="1" fill="#9aa7b0"/><path d="M0 1h9v1.6c0 1.9-2.4 3.2-3.9 3.9C6.6 7.2 9 8.5 9 10.4V12H0v-1.6C0 8.5 2.4 7.2 3.9 6.5 2.4 5.8 0 4.5 0 2.6z" fill="#bfe0f6"/><path d="M.9 1.8h7.2c0 1.8-2 3-3.3 4.2h-.6C2.9 4.8.9 3.6.9 1.8z" fill="#f2ae45"/><rect x="4.1" y="5.6" width=".8" height="4.6" fill="#f2ae45"/><path d="M1 11.9c.3-1.3 1.8-2 3.5-2s3.2.7 3.5 2z" fill="#f2ae45"/></svg></div></div><div class="row" style="top:670.38px"><div class="c " style="left:0px;width:140px"><span class="dt">16-Jul-25 18:08</span></div><div class="c l" style="left:140px;width:136px"><svg class="flag" width="18" height="13" viewBox="0 0 18 13"><rect width="6" height="13" fill="#002395"/><rect x="6" width="6" height="13" fill="#fff"/><rect x="12" width="6" height="13" fill="#ed2939"/></svg><span class="call">14AT072</span></div><div class="c " style="left:276px;width:68px"><span class="op">Norbert</span></div><div class="c bc" style="left:344px;width:91px"><span class="fq">27.480</span></div><div class="c " style="left:435px;width:53px"><span class="sp">-</span></div><div class="c bc" style="left:488px;width:55px"><span class="usb">USB</span></div><div class="c bc" style="left:543px;width:68px"><span class="rb rb-y">5/8</span></div><div class="c bc" style="left:611px;width:69px"><span class="rb rb-y">5/8</span></div><div class="c " style="left:680px;width:46px"><span class="bl">SP</span></div><div class="c " style="left:726px;width:39px"><span class="bl">WRK</span></div><div class="c bc" style="left:765px;width:51px"><span class="qb qb-r">No</span></div><div class="c " style="left:816px;width:91px"></div><div class="c " style="left:907px;width:91px"></div><div class="c bc" style="left:998px;width:51px"><span class="qb qb-g">Yes</span></div><div class="c " style="left:1049px;width:96px"><span class="bl">2025-07-16</span></div><div class="c " style="left:1145px;width:96px"><span class="bl">2025-07-16</span></div><div class="c l" style="left:1241px;width:122px"><span class="com">Merci Norber…</span></div><div class="c " style="left:1363px;width:81px"><svg class="ic pen" width="11.5" height="11.5" viewBox="0 0 16 16"><path fill="#ffc107" d="M12.146.146a.5.5 0 0 1 .708 0l3 3a.5.5 0 0 1 0 .708l-10 10a.5.5 0 0 1-.168.11l-5 2a.5.5 0 0 1-.65-.65l2-5a.5.5 0 0 1 .11-.168zM11.207 2.5 13.5 4.793 14.793 3.5 12.5 1.207zm1.586 3L10.5 3.207 4 9.707V10h.5a.5.5 0 0 1 .5.5v.5h.5a.5.5 0 0 1 .5.5v.5h.293zm-9.761 5.175-.106.106-1.528 3.821 3.821-1.528.106-.106A.5.5 0 0 1 5 12.5V12h-.5a.5.5 0 0 1-.5-.5V11h-.5a.5.5 0 0 1-.468-.325"/></svg><svg class="ic tr" width="11" height="11" viewBox="0 0 16 16"><path fill="#dc3545" d="M6.5 1h3a.5.5 0 0 1 .5.5v1H6v-1a.5.5 0 0 1 .5-.5M11 2.5v-1A1.5 1.5 0 0 0 9.5 0h-3A1.5 1.5 0 0 0 5 1.5v1H1.5a.5.5 0 0 0 0 1h.538l.853 10.66A2 2 0 0 0 4.885 16h6.23a2 2 0 0 0 1.994-1.84l.853-10.66h.538a.5.5 0 0 0 0-1zm1.958 1-.846 10.58a1 1 0 0 1-.997.92h-6.23a1 1 0 0 1-.997-.92L3.042 3.5zm-7.487 1a.5.5 0 0 1 .528.47l.5 8.5a.5.5 0 0 1-.998.06L5 5.03a.5.5 0 0 1 .47-.53Zm5.058 0a.5.5 0 0 1 .47.53l-.5 8.5a.5.5 0 1 1-.998-.06l.5-8.5a.5.5 0 0 1 .528-.47M8 4.5a.5.5 0 0 1 .5.5v8.5a.5.5 0 0 1-1 0V5a.5.5 0 0 1 .5-.5"/></svg></div><div class="c " style="left:1444px;width:62px"><svg class="ic up" width="11.5" height="11" viewBox="0 0 16 16" preserveAspectRatio="none"><path fill="#0dcaf0" d="M.5 9.9a.5.5 0 0 1 .5.5v2.5a1 1 0 0 0 1 1h12a1 1 0 0 0 1-1v-2.5a.5.5 0 0 1 1 0v2.5a2 2 0 0 1-2 2H2a2 2 0 0 1-2-2v-2.5a.5.5 0 0 1 .5-.5"/><path fill="#0dcaf0" d="M7.646 1.146a.5.5 0 0 1 .708 0l3 3a.5.5 0 0 1-.708.708L8.5 2.707V11.5a.5.5 0 0 1-1 0V2.707L5.354 4.854a.5.5 0 1 1-.708-.708z"/></svg><svg class="ic hg" width="9" height="13" viewBox="0 0 9 13"><rect x="0" y="0" width="9" height="1" fill="#9aa7b0"/><rect x="0" y="12" width="9" height="1" fill="#9aa7b0"/><path d="M0 1h9v1.6c0 1.9-2.4 3.2-3.9 3.9C6.6 7.2 9 8.5 9 10.4V12H0v-1.6C0 8.5 2.4 7.2 3.9 6.5 2.4 5.8 0 4.5 0 2.6z" fill="#bfe0f6"/><path d="M.9 1.8h7.2c0 1.8-2 3-3.3 4.2h-.6C2.9 4.8.9 3.6.9 1.8z" fill="#f2ae45"/><rect x="4.1" y="5.6" width=".8" height="4.6" fill="#f2ae45"/><path d="M1 11.9c.3-1.3 1.8-2 3.5-2s3.2.7 3.5 2z" fill="#f2ae45"/></svg></div></div><div class="row" style="top:707.52px"><div class="c " style="left:0px;width:140px"><span class="dt">16-Jul-25 14:58</span></div><div class="c l" style="left:140px;width:136px"><svg class="flag" width="18" height="13" viewBox="0 0 18 13"><rect width="18" height="4.33" fill="#ae1c28"/><rect y="4.33" width="18" height="4.34" fill="#fff"/><rect y="8.67" width="18" height="4.33" fill="#21468b"/></svg><span class="call">19PTT001</span></div><div class="c " style="left:276px;width:68px"><span class="op"></span></div><div class="c bc" style="left:344px;width:91px"><span class="fq">27.930</span></div><div class="c " style="left:435px;width:53px"><span class="sp">-</span></div><div class="c bc" style="left:488px;width:55px"><span class="usb">USB</span></div><div class="c bc" style="left:543px;width:68px"><span class="rb rb-y">5/8</span></div><div class="c bc" style="left:611px;width:69px"><span class="rb rb-y">5/8</span></div><div class="c " style="left:680px;width:46px"><span class="bl">SP</span></div><div class="c " style="left:726px;width:39px"><span class="bl">WRK</span></div><div class="c bc" style="left:765px;width:51px"><span class="qb qb-r qb-e"></span></div><div class="c " style="left:816px;width:91px"></div><div class="c " style="left:907px;width:91px"></div><div class="c bc" style="left:998px;width:51px"><span class="qb qb-r qb-e"></span></div><div class="c " style="left:1049px;width:96px"><span class="bl"></span></div><div class="c " style="left:1145px;width:96px"><span class="bl"></span></div><div class="c l" style="left:1241px;width:122px"><span class="com">Best 73</span></div><div class="c " style="left:1363px;width:81px"><svg class="ic pen" width="11.5" height="11.5" viewBox="0 0 16 16"><path fill="#ffc107" d="M12.146.146a.5.5 0 0 1 .708 0l3 3a.5.5 0 0 1 0 .708l-10 10a.5.5 0 0 1-.168.11l-5 2a.5.5 0 0 1-.65-.65l2-5a.5.5 0 0 1 .11-.168zM11.207 2.5 13.5 4.793 14.793 3.5 12.5 1.207zm1.586 3L10.5 3.207 4 9.707V10h.5a.5.5 0 0 1 .5.5v.5h.5a.5.5 0 0 1 .5.5v.5h.293zm-9.761 5.175-.106.106-1.528 3.821 3.821-1.528.106-.106A.5.5 0 0 1 5 12.5V12h-.5a.5.5 0 0 1-.5-.5V11h-.5a.5.5 0 0 1-.468-.325"/></svg><svg class="ic tr" width="11" height="11" viewBox="0 0 16 16"><path fill="#dc3545" d="M6.5 1h3a.5.5 0 0 1 .5.5v1H6v-1a.5.5 0 0 1 .5-.5M11 2.5v-1A1.5 1.5 0 0 0 9.5 0h-3A1.5 1.5 0 0 0 5 1.5v1H1.5a.5.5 0 0 0 0 1h.538l.853 10.66A2 2 0 0 0 4.885 16h6.23a2 2 0 0 0 1.994-1.84l.853-10.66h.538a.5.5 0 0 0 0-1zm1.958 1-.846 10.58a1 1 0 0 1-.997.92h-6.23a1 1 0 0 1-.997-.92L3.042 3.5zm-7.487 1a.5.5 0 0 1 .528.47l.5 8.5a.5.5 0 0 1-.998.06L5 5.03a.5.5 0 0 1 .47-.53Zm5.058 0a.5.5 0 0 1 .47.53l-.5 8.5a.5.5 0 1 1-.998-.06l.5-8.5a.5.5 0 0 1 .528-.47M8 4.5a.5.5 0 0 1 .5.5v8.5a.5.5 0 0 1-1 0V5a.5.5 0 0 1 .5-.5"/></svg></div><div class="c " style="left:1444px;width:62px"><svg class="ic up" width="11.5" height="11" viewBox="0 0 16 16" preserveAspectRatio="none"><path fill="#0dcaf0" d="M.5 9.9a.5.5 0 0 1 .5.5v2.5a1 1 0 0 0 1 1h12a1 1 0 0 0 1-1v-2.5a.5.5 0 0 1 1 0v2.5a2 2 0 0 1-2 2H2a2 2 0 0 1-2-2v-2.5a.5.5 0 0 1 .5-.5"/><path fill="#0dcaf0" d="M7.646 1.146a.5.5 0 0 1 .708 0l3 3a.5.5 0 0 1-.708.708L8.5 2.707V11.5a.5.5 0 0 1-1 0V2.707L5.354 4.854a.5.5 0 1 1-.708-.708z"/></svg><svg class="ic hg" width="9" height="13" viewBox="0 0 9 13"><rect x="0" y="0" width="9" height="1" fill="#9aa7b0"/><rect x="0" y="12" width="9" height="1" fill="#9aa7b0"/><path d="M0 1h9v1.6c0 1.9-2.4 3.2-3.9 3.9C6.6 7.2 9 8.5 9 10.4V12H0v-1.6C0 8.5 2.4 7.2 3.9 6.5 2.4 5.8 0 4.5 0 2.6z" fill="#bfe0f6"/><path d="M.9 1.8h7.2c0 1.8-2 3-3.3 4.2h-.6C2.9 4.8.9 3.6.9 1.8z" fill="#f2ae45"/><rect x="4.1" y="5.6" width=".8" height="4.6" fill="#f2ae45"/><path d="M1 11.9c.3-1.3 1.8-2 3.5-2s3.2.7 3.5 2z" fill="#f2ae45"/></svg></div></div><div class="row" style="top:744.66px"><div class="c " style="left:0px;width:140px"><span class="dt">16-Jul-25 14:45</span></div><div class="c l" style="left:140px;width:136px"><svg class="flag" width="18" height="13" viewBox="0 0 18 13"><rect width="6" height="13" fill="#002395"/><rect x="6" width="6" height="13" fill="#fff"/><rect x="12" width="6" height="13" fill="#ed2939"/></svg><span class="call">14OK122</span></div><div class="c " style="left:276px;width:68px"><span class="op">Jim</span></div><div class="c bc" style="left:344px;width:91px"><span class="fq">27.540</span></div><div class="c " style="left:435px;width:53px"><span class="sp">-</span></div><div class="c bc" style="left:488px;width:55px"><span class="usb">USB</span></div><div class="c bc" style="left:543px;width:68px"><span class="rb rb-y">5/7</span></div><div class="c bc" style="left:611px;width:69px"><span class="rb rb-y">5/7</span></div><div class="c " style="left:680px;width:46px"><span class="bl">SP</span></div><div class="c " style="left:726px;width:39px"><span class="bl">WRK</span></div><div class="c bc" style="left:765px;width:51px"><span class="qb qb-r">No</span></div><div class="c " style="left:816px;width:91px"></div><div class="c " style="left:907px;width:91px"></div><div class="c bc" style="left:998px;width:51px"><span class="qb qb-r">No</span></div><div class="c " style="left:1049px;width:96px"><span class="bl"></span></div><div class="c " style="left:1145px;width:96px"><span class="bl"></span></div><div class="c l" style="left:1241px;width:122px"><span class="com">73</span></div><div class="c " style="left:1363px;width:81px"><svg class="ic pen" width="11.5" height="11.5" viewBox="0 0 16 16"><path fill="#ffc107" d="M12.146.146a.5.5 0 0 1 .708 0l3 3a.5.5 0 0 1 0 .708l-10 10a.5.5 0 0 1-.168.11l-5 2a.5.5 0 0 1-.65-.65l2-5a.5.5 0 0 1 .11-.168zM11.207 2.5 13.5 4.793 14.793 3.5 12.5 1.207zm1.586 3L10.5 3.207 4 9.707V10h.5a.5.5 0 0 1 .5.5v.5h.5a.5.5 0 0 1 .5.5v.5h.293zm-9.761 5.175-.106.106-1.528 3.821 3.821-1.528.106-.106A.5.5 0 0 1 5 12.5V12h-.5a.5.5 0 0 1-.5-.5V11h-.5a.5.5 0 0 1-.468-.325"/></svg><svg class="ic tr" width="11" height="11" viewBox="0 0 16 16"><path fill="#dc3545" d="M6.5 1h3a.5.5 0 0 1 .5.5v1H6v-1a.5.5 0 0 1 .5-.5M11 2.5v-1A1.5 1.5 0 0 0 9.5 0h-3A1.5 1.5 0 0 0 5 1.5v1H1.5a.5.5 0 0 0 0 1h.538l.853 10.66A2 2 0 0 0 4.885 16h6.23a2 2 0 0 0 1.994-1.84l.853-10.66h.538a.5.5 0 0 0 0-1zm1.958 1-.846 10.58a1 1 0 0 1-.997.92h-6.23a1 1 0 0 1-.997-.92L3.042 3.5zm-7.487 1a.5.5 0 0 1 .528.47l.5 8.5a.5.5 0 0 1-.998.06L5 5.03a.5.5 0 0 1 .47-.53Zm5.058 0a.5.5 0 0 1 .47.53l-.5 8.5a.5.5 0 1 1-.998-.06l.5-8.5a.5.5 0 0 1 .528-.47M8 4.5a.5.5 0 0 1 .5.5v8.5a.5.5 0 0 1-1 0V5a.5.5 0 0 1 .5-.5"/></svg></div><div class="c " style="left:1444px;width:62px"><svg class="ic up" width="11.5" height="11" viewBox="0 0 16 16" preserveAspectRatio="none"><path fill="#0dcaf0" d="M.5 9.9a.5.5 0 0 1 .5.5v2.5a1 1 0 0 0 1 1h12a1 1 0 0 0 1-1v-2.5a.5.5 0 0 1 1 0v2.5a2 2 0 0 1-2 2H2a2 2 0 0 1-2-2v-2.5a.5.5 0 0 1 .5-.5"/><path fill="#0dcaf0" d="M7.646 1.146a.5.5 0 0 1 .708 0l3 3a.5.5 0 0 1-.708.708L8.5 2.707V11.5a.5.5 0 0 1-1 0V2.707L5.354 4.854a.5.5 0 1 1-.708-.708z"/></svg><svg class="ic hg" width="9" height="13" viewBox="0 0 9 13"><rect x="0" y="0" width="9" height="1" fill="#9aa7b0"/><rect x="0" y="12" width="9" height="1" fill="#9aa7b0"/><path d="M0 1h9v1.6c0 1.9-2.4 3.2-3.9 3.9C6.6 7.2 9 8.5 9 10.4V12H0v-1.6C0 8.5 2.4 7.2 3.9 6.5 2.4 5.8 0 4.5 0 2.6z" fill="#bfe0f6"/><path d="M.9 1.8h7.2c0 1.8-2 3-3.3 4.2h-.6C2.9 4.8.9 3.6.9 1.8z" fill="#f2ae45"/><rect x="4.1" y="5.6" width=".8" height="4.6" fill="#f2ae45"/><path d="M1 11.9c.3-1.3 1.8-2 3.5-2s3.2.7 3.5 2z" fill="#f2ae45"/></svg></div></div><div class="row" style="top:781.80px"><div class="c " style="left:0px;width:140px"><span class="dt">16-Jul-25 14:06</span></div><div class="c l" style="left:140px;width:136px"><svg class="flag" width="18" height="13" viewBox="0 0 18 13"><rect width="18" height="13" fill="#fff"/><rect width="18" height="6.5" fill="#b22234"/></svg><span class="call">10BC/MJ</span></div><div class="c " style="left:276px;width:68px"><span class="op"></span></div><div class="c bc" style="left:344px;width:91px"><span class="fq">27.720</span></div><div class="c " style="left:435px;width:53px"><span class="sp">-</span></div><div class="c bc" style="left:488px;width:55px"><span class="usb">USB</span></div><div class="c bc" style="left:543px;width:68px"><span class="rb rb-y">5/7</span></div><div class="c bc" style="left:611px;width:69px"><span class="rb rb-y">5/7</span></div><div class="c " style="left:680px;width:46px"><span class="bl">SP</span></div><div class="c " style="left:726px;width:39px"><span class="bl">WRK</span></div><div class="c bc" style="left:765px;width:51px"><span class="qb qb-r">No</span></div><div class="c " style="left:816px;width:91px"></div><div class="c " style="left:907px;width:91px"></div><div class="c bc" style="left:998px;width:51px"><span class="qb qb-r qb-e"></span></div><div class="c " style="left:1049px;width:96px"><span class="bl"></span></div><div class="c " style="left:1145px;width:96px"><span class="bl"></span></div><div class="c l" style="left:1241px;width:122px"><span class="com">73 Gl…</span></div><div class="c " style="left:1363px;width:81px"><svg class="ic pen" width="11.5" height="11.5" viewBox="0 0 16 16"><path fill="#ffc107" d="M12.146.146a.5.5 0 0 1 .708 0l3 3a.5.5 0 0 1 0 .708l-10 10a.5.5 0 0 1-.168.11l-5 2a.5.5 0 0 1-.65-.65l2-5a.5.5 0 0 1 .11-.168zM11.207 2.5 13.5 4.793 14.793 3.5 12.5 1.207zm1.586 3L10.5 3.207 4 9.707V10h.5a.5.5 0 0 1 .5.5v.5h.5a.5.5 0 0 1 .5.5v.5h.293zm-9.761 5.175-.106.106-1.528 3.821 3.821-1.528.106-.106A.5.5 0 0 1 5 12.5V12h-.5a.5.5 0 0 1-.5-.5V11h-.5a.5.5 0 0 1-.468-.325"/></svg><svg class="ic tr" width="11" height="11" viewBox="0 0 16 16"><path fill="#dc3545" d="M6.5 1h3a.5.5 0 0 1 .5.5v1H6v-1a.5.5 0 0 1 .5-.5M11 2.5v-1A1.5 1.5 0 0 0 9.5 0h-3A1.5 1.5 0 0 0 5 1.5v1H1.5a.5.5 0 0 0 0 1h.538l.853 10.66A2 2 0 0 0 4.885 16h6.23a2 2 0 0 0 1.994-1.84l.853-10.66h.538a.5.5 0 0 0 0-1zm1.958 1-.846 10.58a1 1 0 0 1-.997.92h-6.23a1 1 0 0 1-.997-.92L3.042 3.5zm-7.487 1a.5.5 0 0 1 .528.47l.5 8.5a.5.5 0 0 1-.998.06L5 5.03a.5.5 0 0 1 .47-.53Zm5.058 0a.5.5 0 0 1 .47.53l-.5 8.5a.5.5 0 1 1-.998-.06l.5-8.5a.5.5 0 0 1 .528-.47M8 4.5a.5.5 0 0 1 .5.5v8.5a.5.5 0 0 1-1 0V5a.5.5 0 0 1 .5-.5"/></svg></div><div class="c " style="left:1444px;width:62px"><svg class="ic up" width="11.5" height="11" viewBox="0 0 16 16" preserveAspectRatio="none"><path fill="#0dcaf0" d="M.5 9.9a.5.5 0 0 1 .5.5v2.5a1 1 0 0 0 1 1h12a1 1 0 0 0 1-1v-2.5a.5.5 0 0 1 1 0v2.5a2 2 0 0 1-2 2H2a2 2 0 0 1-2-2v-2.5a.5.5 0 0 1 .5-.5"/><path fill="#0dcaf0" d="M7.646 1.146a.5.5 0 0 1 .708 0l3 3a.5.5 0 0 1-.708.708L8.5 2.707V11.5a.5.5 0 0 1-1 0V2.707L5.354 4.854a.5.5 0 1 1-.708-.708z"/></svg><svg class="ic hg" width="9" height="13" viewBox="0 0 9 13"><rect x="0" y="0" width="9" height="1" fill="#9aa7b0"/><rect x="0" y="12" width="9" height="1" fill="#9aa7b0"/><path d="M0 1h9v1.6c0 1.9-2.4 3.2-3.9 3.9C6.6 7.2 9 8.5 9 10.4V12H0v-1.6C0 8.5 2.4 7.2 3.9 6.5 2.4 5.8 0 4.5 0 2.6z" fill="#bfe0f6"/><path d="M.9 1.8h7.2c0 1.8-2 3-3.3 4.2h-.6C2.9 4.8.9 3.6.9 1.8z" fill="#f2ae45"/><rect x="4.1" y="5.6" width=".8" height="4.6" fill="#f2ae45"/><path d="M1 11.9c.3-1.3 1.8-2 3.5-2s3.2.7 3.5 2z" fill="#f2ae45"/></svg></div></div>
<div class="vl" style="left:140px"></div><div class="vl" style="left:276px"></div><div class="vl" style="left:344px"></div><div class="vl" style="left:435px"></div><div class="vl" style="left:488px"></div><div class="vl" style="left:543px"></div><div class="vl" style="left:611px"></div><div class="vl" style="left:680px"></div><div class="vl" style="left:726px"></div><div class="vl" style="left:765px"></div><div class="vl" style="left:816px"></div><div class="vl" style="left:907px"></div><div class="vl" style="left:998px"></div><div class="vl" style="left:1049px"></div><div class="vl" style="left:1145px"></div><div class="vl" style="left:1241px"></div><div class="vl" style="left:1363px"></div><div class="vl" style="left:1444px"></div>
<div class="head"><div class="c " style="left:0px;width:140px">Date/Time</div><div class="c " style="left:140px;width:136px">DX</div><div class="c " style="left:276px;width:68px">OP</div><div class="c " style="left:344px;width:91px">Frequency</div><div class="c " style="left:435px;width:53px">Split</div><div class="c " style="left:488px;width:55px">Mode</div><div class="c " style="left:543px;width:68px">RST TX</div><div class="c " style="left:611px;width:69px">RST RX</div><div class="c " style="left:680px;width:46px">Path</div><div class="c " style="left:726px;width:39px">W/S</div><div class="c " style="left:765px;width:51px">QSL</div><div class="c " style="left:816px;width:91px">QSL TX</div><div class="c " style="left:907px;width:91px">QSL RX</div><div class="c " style="left:998px;width:51px">eQSL</div><div class="c " style="left:1049px;width:96px">eQSL TX</div><div class="c " style="left:1145px;width:96px">eQSL RX</div><div class="c " style="left:1241px;width:122px">Comments</div><div class="c " style="left:1363px;width:81px">Actions</div><div class="c " style="left:1444px;width:62px">eQSL</div><div class="hvl" style="left:140px"></div><div class="hvl" style="left:276px"></div><div class="hvl" style="left:344px"></div><div class="hvl" style="left:435px"></div><div class="hvl" style="left:488px"></div><div class="hvl" style="left:543px"></div><div class="hvl" style="left:611px"></div><div class="hvl" style="left:680px"></div><div class="hvl" style="left:726px"></div><div class="hvl" style="left:765px"></div><div class="hvl" style="left:816px"></div><div class="hvl" style="left:907px"></div><div class="hvl" style="left:998px"></div><div class="hvl" style="left:1049px"></div><div class="hvl" style="left:1145px"></div><div class="hvl" style="left:1241px"></div><div class="hvl" style="left:1363px"></div><div class="hvl" style="left:1444px"></div></div>
</div>
<div class="sb"><div class="au"></div><div class="th"></div><div class="ad"></div></div>
</body></html>
